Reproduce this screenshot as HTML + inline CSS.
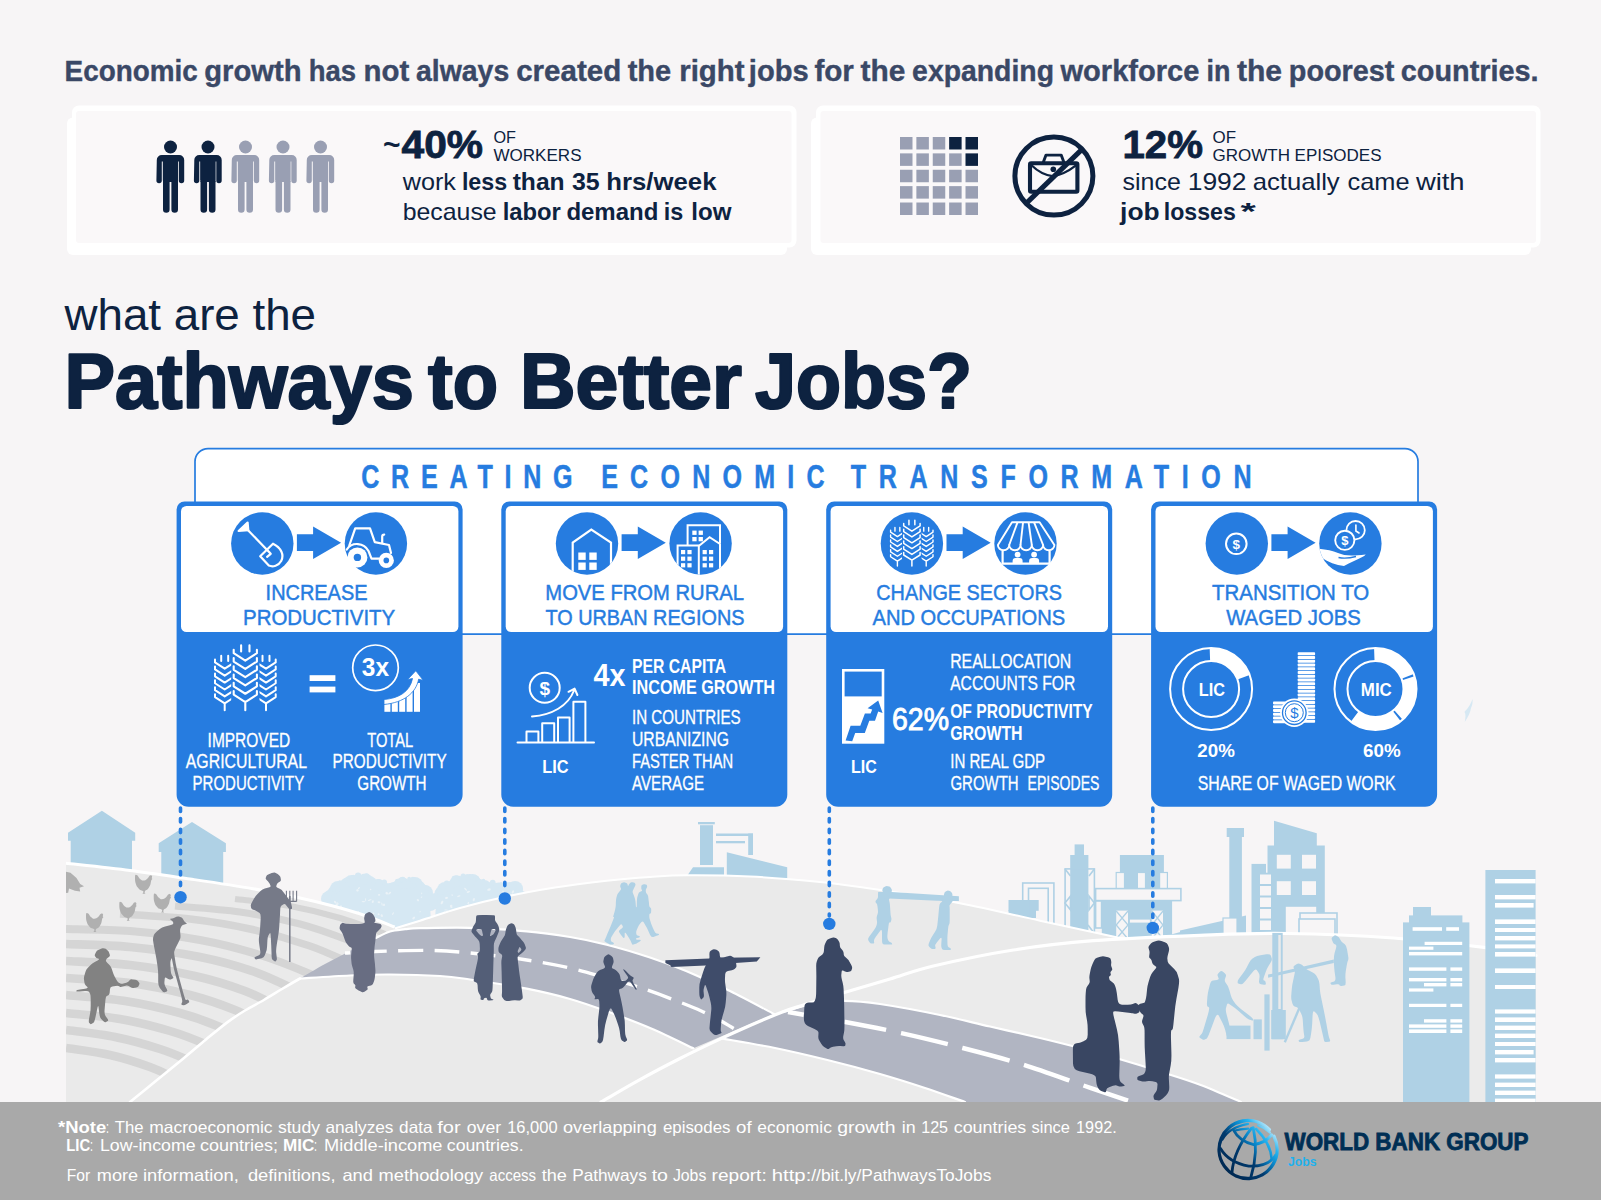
<!DOCTYPE html>
<html lang="en"><head><meta charset="utf-8"><title>Pathways to Better Jobs</title>
<style>
html,body{margin:0;padding:0;background:#f7f5f6;}
body{width:1601px;height:1200px;overflow:hidden;font-family:"Liberation Sans",sans-serif;}
svg{display:block;}
svg text{font-family:"Liberation Sans",sans-serif;}
</style></head><body>
<svg width="1601" height="1200" viewBox="0 0 1601 1200">
<rect width="1601" height="1200" fill="#f7f5f6"/>
<g id="p1_top">
<text y="81.3" font-size="29.5" font-weight="bold" fill="#3a4866" stroke="#3a4866" stroke-width="0.4"><tspan x="64.6" textLength="133.2" lengthAdjust="spacingAndGlyphs">Economic</tspan> <tspan x="204.2" textLength="97.3" lengthAdjust="spacingAndGlyphs">growth</tspan> <tspan x="308.8" textLength="47.3" lengthAdjust="spacingAndGlyphs">has</tspan> <tspan x="363.5" textLength="45.7" lengthAdjust="spacingAndGlyphs">not</tspan> <tspan x="416.0" textLength="93.2" lengthAdjust="spacingAndGlyphs">always</tspan> <tspan x="516.2" textLength="105.0" lengthAdjust="spacingAndGlyphs">created</tspan> <tspan x="627.7" textLength="43.5" lengthAdjust="spacingAndGlyphs">the</tspan> <tspan x="679.2" textLength="65.4" lengthAdjust="spacingAndGlyphs">right</tspan> <tspan x="748.8" textLength="59.8" lengthAdjust="spacingAndGlyphs">jobs</tspan> <tspan x="814.4" textLength="39.5" lengthAdjust="spacingAndGlyphs">for</tspan> <tspan x="860.6" textLength="44.8" lengthAdjust="spacingAndGlyphs">the</tspan> <tspan x="912.1" textLength="141.9" lengthAdjust="spacingAndGlyphs">expanding</tspan> <tspan x="1060.5" textLength="138.8" lengthAdjust="spacingAndGlyphs">workforce</tspan> <tspan x="1206.6" textLength="23.9" lengthAdjust="spacingAndGlyphs">in</tspan> <tspan x="1236.9" textLength="45.1" lengthAdjust="spacingAndGlyphs">the</tspan> <tspan x="1288.8" textLength="105.6" lengthAdjust="spacingAndGlyphs">poorest</tspan> <tspan x="1400.8" textLength="137.8" lengthAdjust="spacingAndGlyphs">countries.</tspan></text>
<rect x="67" y="117.5" width="720" height="137.5" rx="6" fill="#fff"/>
<rect x="72" y="105.5" width="724.5" height="142" rx="7" fill="#fff"/>
<rect x="76" y="111" width="715.5" height="132" rx="3" fill="#faf8f9"/>
<rect x="811" y="117.5" width="720" height="137.5" rx="6" fill="#fff"/>
<rect x="816" y="105.5" width="724.5" height="142" rx="7" fill="#fff"/>
<rect x="820.5" y="111" width="715.5" height="132" rx="3" fill="#faf8f9"/>
<g fill="#0d2240" transform="translate(170.5,0)"><circle cx="0" cy="147" r="6.5"/><path d="M-13.7,160 a5,5 0 0 1 5,-5 h17.4 a5,5 0 0 1 5,5 v20.5 a2.7,2.7 0 0 1 -5.4,0 v-19 h-1 v19 h-15 v-19 h-1 v19 a2.7,2.7 0 0 1 -5.4,0 z"/><path d="M-7.5,160 h15 v22 h-15z"/><path d="M-7.5,181 h6.6 v28.5 a3.3,3.3 0 0 1 -6.6,0 z M0.9,181 h6.6 v28.5 a3.3,3.3 0 0 1 -6.6,0 z"/></g>
<g fill="#0d2240" transform="translate(208,0)"><circle cx="0" cy="147" r="6.5"/><path d="M-13.7,160 a5,5 0 0 1 5,-5 h17.4 a5,5 0 0 1 5,5 v20.5 a2.7,2.7 0 0 1 -5.4,0 v-19 h-1 v19 h-15 v-19 h-1 v19 a2.7,2.7 0 0 1 -5.4,0 z"/><path d="M-7.5,160 h15 v22 h-15z"/><path d="M-7.5,181 h6.6 v28.5 a3.3,3.3 0 0 1 -6.6,0 z M0.9,181 h6.6 v28.5 a3.3,3.3 0 0 1 -6.6,0 z"/></g>
<g fill="#999fb3" transform="translate(245.5,0)"><circle cx="0" cy="147" r="6.5"/><path d="M-13.7,160 a5,5 0 0 1 5,-5 h17.4 a5,5 0 0 1 5,5 v20.5 a2.7,2.7 0 0 1 -5.4,0 v-19 h-1 v19 h-15 v-19 h-1 v19 a2.7,2.7 0 0 1 -5.4,0 z"/><path d="M-7.5,160 h15 v22 h-15z"/><path d="M-7.5,181 h6.6 v28.5 a3.3,3.3 0 0 1 -6.6,0 z M0.9,181 h6.6 v28.5 a3.3,3.3 0 0 1 -6.6,0 z"/></g>
<g fill="#999fb3" transform="translate(283,0)"><circle cx="0" cy="147" r="6.5"/><path d="M-13.7,160 a5,5 0 0 1 5,-5 h17.4 a5,5 0 0 1 5,5 v20.5 a2.7,2.7 0 0 1 -5.4,0 v-19 h-1 v19 h-15 v-19 h-1 v19 a2.7,2.7 0 0 1 -5.4,0 z"/><path d="M-7.5,160 h15 v22 h-15z"/><path d="M-7.5,181 h6.6 v28.5 a3.3,3.3 0 0 1 -6.6,0 z M0.9,181 h6.6 v28.5 a3.3,3.3 0 0 1 -6.6,0 z"/></g>
<g fill="#999fb3" transform="translate(320.5,0)"><circle cx="0" cy="147" r="6.5"/><path d="M-13.7,160 a5,5 0 0 1 5,-5 h17.4 a5,5 0 0 1 5,5 v20.5 a2.7,2.7 0 0 1 -5.4,0 v-19 h-1 v19 h-15 v-19 h-1 v19 a2.7,2.7 0 0 1 -5.4,0 z"/><path d="M-7.5,160 h15 v22 h-15z"/><path d="M-7.5,181 h6.6 v28.5 a3.3,3.3 0 0 1 -6.6,0 z M0.9,181 h6.6 v28.5 a3.3,3.3 0 0 1 -6.6,0 z"/></g>
<text x="383.0" y="155.0" font-size="30" font-weight="bold" fill="#0d2240" textLength="17.5" lengthAdjust="spacingAndGlyphs" >~</text>
<text x="401.5" y="158.0" font-size="39" font-weight="bold" fill="#0d2240" textLength="81.5" lengthAdjust="spacingAndGlyphs" stroke="#0d2240" stroke-width="0.8">40%</text>
<text x="493.5" y="143.2" font-size="16" font-weight="normal" fill="#0d2240" textLength="22.5" lengthAdjust="spacingAndGlyphs" >OF</text>
<text x="493.5" y="160.6" font-size="16" font-weight="normal" fill="#0d2240" textLength="88.0" lengthAdjust="spacingAndGlyphs" >WORKERS</text>
<text y="190.0" font-size="24" font-weight="normal" fill="#0d2240" ><tspan x="402.7" textLength="53.2" lengthAdjust="spacingAndGlyphs">work</tspan> <tspan x="461.9" textLength="45.3" lengthAdjust="spacingAndGlyphs" font-weight="bold">less</tspan> <tspan x="512.7" textLength="51.9" lengthAdjust="spacingAndGlyphs" font-weight="bold">than</tspan> <tspan x="571.9" textLength="27.7" lengthAdjust="spacingAndGlyphs" font-weight="bold">35</tspan> <tspan x="606.3" textLength="110.2" lengthAdjust="spacingAndGlyphs" font-weight="bold">hrs/week</tspan></text>
<text y="220.0" font-size="24" font-weight="normal" fill="#0d2240" ><tspan x="402.7" textLength="94.0" lengthAdjust="spacingAndGlyphs">because</tspan> <tspan x="502.7" textLength="58.2" lengthAdjust="spacingAndGlyphs" font-weight="bold">labor</tspan> <tspan x="566.4" textLength="91.9" lengthAdjust="spacingAndGlyphs" font-weight="bold">demand</tspan> <tspan x="663.8" textLength="19.5" lengthAdjust="spacingAndGlyphs" font-weight="bold">is</tspan> <tspan x="691.3" textLength="40.2" lengthAdjust="spacingAndGlyphs" font-weight="bold">low</tspan></text>
<rect x="900.00" y="137.00" width="12.5" height="12.5" fill="#999fb3"/><rect x="916.38" y="137.00" width="12.5" height="12.5" fill="#999fb3"/><rect x="932.75" y="137.00" width="12.5" height="12.5" fill="#999fb3"/><rect x="949.12" y="137.00" width="12.5" height="12.5" fill="#0d2240"/><rect x="965.50" y="137.00" width="12.5" height="12.5" fill="#0d2240"/><rect x="900.00" y="153.38" width="12.5" height="12.5" fill="#999fb3"/><rect x="916.38" y="153.38" width="12.5" height="12.5" fill="#999fb3"/><rect x="932.75" y="153.38" width="12.5" height="12.5" fill="#999fb3"/><rect x="949.12" y="153.38" width="12.5" height="12.5" fill="#999fb3"/><rect x="965.50" y="153.38" width="12.5" height="12.5" fill="#0d2240"/><rect x="900.00" y="169.75" width="12.5" height="12.5" fill="#999fb3"/><rect x="916.38" y="169.75" width="12.5" height="12.5" fill="#999fb3"/><rect x="932.75" y="169.75" width="12.5" height="12.5" fill="#999fb3"/><rect x="949.12" y="169.75" width="12.5" height="12.5" fill="#999fb3"/><rect x="965.50" y="169.75" width="12.5" height="12.5" fill="#999fb3"/><rect x="900.00" y="186.12" width="12.5" height="12.5" fill="#999fb3"/><rect x="916.38" y="186.12" width="12.5" height="12.5" fill="#999fb3"/><rect x="932.75" y="186.12" width="12.5" height="12.5" fill="#999fb3"/><rect x="949.12" y="186.12" width="12.5" height="12.5" fill="#999fb3"/><rect x="965.50" y="186.12" width="12.5" height="12.5" fill="#999fb3"/><rect x="900.00" y="202.50" width="12.5" height="12.5" fill="#999fb3"/><rect x="916.38" y="202.50" width="12.5" height="12.5" fill="#999fb3"/><rect x="932.75" y="202.50" width="12.5" height="12.5" fill="#999fb3"/><rect x="949.12" y="202.50" width="12.5" height="12.5" fill="#999fb3"/><rect x="965.50" y="202.50" width="12.5" height="12.5" fill="#999fb3"/>
<g fill="none" stroke="#0d2240" stroke-linecap="round" stroke-linejoin="round"><circle cx="1053.9" cy="176.1" r="39" stroke-width="5"/><rect x="1030" y="163.3" width="47.4" height="28.4" rx="1.2" stroke-width="4.1"/><path d="M1043.4,162 L1046,155.1 H1061.2 L1063.8,162" stroke-width="2.9"/><path d="M1031.5,165.3 Q1041,174.6 1052.5,176.2 Q1064,174.6 1076,165.3" stroke-width="2.3"/><path d="M1026.2,203.4 L1082.2,149.1" stroke-width="5" stroke-linecap="butt"/></g><circle cx="1053.3" cy="169.2" r="2.8" fill="#0d2240"/>
<text x="1122.5" y="158.0" font-size="39" font-weight="bold" fill="#0d2240" textLength="80.5" lengthAdjust="spacingAndGlyphs" stroke="#0d2240" stroke-width="0.8">12%</text>
<text x="1212.5" y="143.2" font-size="16" font-weight="normal" fill="#0d2240" textLength="23.5" lengthAdjust="spacingAndGlyphs" >OF</text>
<text x="1212.5" y="160.6" font-size="16" font-weight="normal" fill="#0d2240" textLength="169.0" lengthAdjust="spacingAndGlyphs" >GROWTH EPISODES</text>
<text y="190.0" font-size="24" font-weight="normal" fill="#0d2240" ><tspan x="1122.6" textLength="58.2" lengthAdjust="spacingAndGlyphs">since</tspan> <tspan x="1187.7" textLength="58.8" lengthAdjust="spacingAndGlyphs">1992</tspan> <tspan x="1252.7" textLength="87.0" lengthAdjust="spacingAndGlyphs">actually</tspan> <tspan x="1347.6" textLength="62.0" lengthAdjust="spacingAndGlyphs">came</tspan> <tspan x="1415.9" textLength="48.7" lengthAdjust="spacingAndGlyphs">with</tspan></text>
<text y="220.0" font-size="24" font-weight="bold" fill="#0d2240" ><tspan x="1120.1" textLength="39.5" lengthAdjust="spacingAndGlyphs">job</tspan> <tspan x="1163.8" textLength="72.0" lengthAdjust="spacingAndGlyphs">losses</tspan> <tspan x="1240.5" textLength="15.3" lengthAdjust="spacingAndGlyphs">*</tspan></text>
<text x="64.5" y="330.0" font-size="45" font-weight="normal" fill="#0d2240" textLength="251.5" lengthAdjust="spacingAndGlyphs" >what are the</text>
<text x="64.5" y="407.6" font-size="77" font-weight="bold" fill="#0d2240" textLength="349.5" lengthAdjust="spacingAndGlyphs" stroke="#0d2240" stroke-width="2.2" stroke-linejoin="round">Pathways</text>
<text x="428.0" y="407.6" font-size="77" font-weight="bold" fill="#0d2240" textLength="70.0" lengthAdjust="spacingAndGlyphs" stroke="#0d2240" stroke-width="2.2" stroke-linejoin="round">to</text>
<text x="520.0" y="407.6" font-size="77" font-weight="bold" fill="#0d2240" textLength="222.0" lengthAdjust="spacingAndGlyphs" stroke="#0d2240" stroke-width="2.2" stroke-linejoin="round">Better</text>
<text x="755.0" y="407.6" font-size="77" font-weight="bold" fill="#0d2240" textLength="217.0" lengthAdjust="spacingAndGlyphs" stroke="#0d2240" stroke-width="2.2" stroke-linejoin="round">Jobs?</text>
</g>
<g id="p4_land">
<path d="M1472.5,699 C1470,706 1467,709 1464.5,712 C1466,714 1465.5,718 1464.8,722 C1468,717 1470.5,712 1471,708 C1472.5,705 1472.8,702 1472.5,699Z" fill="#d6e8f3"/><g fill="#afd1e5"><path d="M68,832.7 L101.9,810.8 L135.2,832.7 V840.7 H132 V880 H70.7 V840.7 H68 Z"/><path d="M158.7,843.3 L192,822 L225.9,843.3 V851.9 H223.2 V900 H161.3 V851.9 H158.7 Z"/></g>
<g fill="#afd1e5"><rect x="698" y="822" width="16.8" height="2.3"/><rect x="700" y="825.2" width="13" height="39.8"/><path d="M693,867.2 H724 V876 H687 Z"/><path d="M726.8,852.2 L787.2,867.2 V879 H726.8 Z"/><rect x="716" y="833.5" width="37" height="2.5"/><rect x="748.2" y="833.5" width="4.8" height="21.5"/><rect x="716" y="841" width="29" height="2.3"/></g>
<g fill="#d6e8f3"><circle cx="329" cy="899" r="8"/><circle cx="338" cy="889" r="8"/><circle cx="351.6" cy="883" r="8"/><circle cx="365.3" cy="881.5" r="8"/><circle cx="378" cy="887" r="8"/><circle cx="390" cy="891" r="8"/><circle cx="402.5" cy="885.5" r="8"/><circle cx="414.8" cy="885" r="8"/><circle cx="425" cy="893" r="8"/><circle cx="430" cy="903" r="8"/><circle cx="332.0" cy="897.0" r="7.5"/><circle cx="334.9" cy="893.0" r="7.5"/><circle cx="342.5" cy="889.6" r="7.5"/><circle cx="347.0" cy="885.3" r="7.5"/><circle cx="356.1" cy="884.6" r="7.5"/><circle cx="360.6" cy="883.5" r="7.5"/><circle cx="369.5" cy="883.5" r="7.5"/><circle cx="373.7" cy="887.2" r="7.5"/><circle cx="382.0" cy="888.5" r="7.5"/><circle cx="385.9" cy="891.4" r="7.5"/><circle cx="394.1" cy="889.5" r="7.5"/><circle cx="398.2" cy="887.7" r="7.5"/><circle cx="406.6" cy="887.0" r="7.5"/><circle cx="410.6" cy="888.5" r="7.5"/><circle cx="418.2" cy="888.1" r="7.5"/><circle cx="421.5" cy="891.2" r="7.5"/><circle cx="426.6" cy="898.8" r="7.5"/><circle cx="428.3" cy="903.4" r="7.5"/><polygon points="327,935 329,902 338,892 351.6,886 365.3,884.5 378,890 390,894 402.5,888.5 414.8,888 425,896 430,906 432,935"/><circle cx="402.0" cy="880.7" r="1.8"/><circle cx="402.7" cy="879.7" r="2.9"/><circle cx="353.3" cy="876.6" r="1.8"/><circle cx="346.2" cy="880.6" r="2.5"/><circle cx="397.5" cy="882.9" r="2.0"/><circle cx="360.2" cy="877.2" r="2.4"/><circle cx="398.3" cy="883.9" r="1.8"/><circle cx="403.9" cy="882.2" r="2.3"/><circle cx="348.7" cy="880.9" r="2.1"/><circle cx="397.7" cy="882.6" r="2.9"/><circle cx="384.3" cy="882.1" r="2.7"/><circle cx="417.2" cy="883.0" r="1.6"/><circle cx="418.9" cy="882.8" r="1.9"/><circle cx="378.5" cy="882.1" r="3.0"/><circle cx="339.9" cy="882.1" r="1.8"/><circle cx="412.2" cy="879.7" r="2.2"/><circle cx="412.9" cy="878.7" r="2.0"/><circle cx="366.8" cy="875.3" r="2.1"/><circle cx="356.8" cy="877.6" r="3.1"/><circle cx="430.4" cy="898.5" r="2.3"/><circle cx="426.6" cy="890.3" r="2.6"/><circle cx="332.7" cy="891.9" r="1.8"/><circle cx="330.2" cy="893.1" r="3.1"/><circle cx="328.5" cy="892.8" r="2.6"/><circle cx="397.4" cy="881.1" r="2.4"/><circle cx="418.9" cy="882.4" r="2.8"/><circle cx="384.5" cy="884.0" r="1.9"/><circle cx="427.6" cy="893.3" r="2.8"/><circle cx="391.2" cy="886.7" r="2.0"/><circle cx="400.8" cy="879.9" r="2.5"/><circle cx="425.5" cy="892.5" r="3.2"/><circle cx="376.8" cy="881.9" r="2.0"/><circle cx="428.4" cy="894.9" r="2.9"/><circle cx="418.2" cy="883.9" r="2.3"/><circle cx="401.4" cy="879.6" r="2.0"/><circle cx="369.5" cy="880.3" r="2.6"/><circle cx="333.9" cy="890.4" r="1.7"/><circle cx="351.5" cy="879.5" r="2.4"/><circle cx="358.1" cy="875.7" r="3.1"/><circle cx="409.2" cy="878.6" r="1.9"/><circle cx="436" cy="901" r="8"/><circle cx="445" cy="890" r="8"/><circle cx="457.4" cy="883.5" r="8"/><circle cx="472.5" cy="882" r="8"/><circle cx="484" cy="888" r="8"/><circle cx="498.6" cy="890.5" r="8"/><circle cx="515.1" cy="889" r="8"/><circle cx="521" cy="899" r="8"/><circle cx="439.0" cy="901.3" r="7.5"/><circle cx="441.9" cy="893.9" r="7.5"/><circle cx="449.1" cy="890.2" r="7.5"/><circle cx="453.2" cy="887.6" r="7.5"/><circle cx="462.4" cy="885.6" r="7.5"/><circle cx="467.4" cy="885.0" r="7.5"/><circle cx="476.3" cy="886.4" r="7.5"/><circle cx="480.1" cy="887.9" r="7.5"/><circle cx="488.8" cy="892.6" r="7.5"/><circle cx="493.6" cy="890.3" r="7.5"/><circle cx="504.0" cy="892.2" r="7.5"/><circle cx="509.5" cy="889.6" r="7.5"/><circle cx="517.0" cy="895.5" r="7.5"/><circle cx="519.0" cy="898.5" r="7.5"/><polygon points="434,935 436,904 445,893 457.4,886.5 472.5,885 484,891 498.6,893.5 515.1,892 521,902 523,935"/><circle cx="442.5" cy="889.9" r="3.0"/><circle cx="518.4" cy="891.6" r="2.4"/><circle cx="517.6" cy="889.5" r="1.8"/><circle cx="504.3" cy="885.3" r="3.0"/><circle cx="483.5" cy="880.5" r="1.8"/><circle cx="484.0" cy="881.8" r="1.6"/><circle cx="514.6" cy="886.0" r="1.8"/><circle cx="439.0" cy="892.6" r="2.9"/><circle cx="442.2" cy="885.0" r="1.7"/><circle cx="440.8" cy="891.5" r="3.1"/><circle cx="478.1" cy="879.4" r="1.9"/><circle cx="464.4" cy="877.7" r="3.1"/><circle cx="508.7" cy="886.4" r="3.1"/><circle cx="454.0" cy="878.0" r="2.3"/><circle cx="441.8" cy="887.5" r="2.1"/><circle cx="442.7" cy="887.0" r="2.7"/><circle cx="446.7" cy="883.2" r="2.8"/><circle cx="439.5" cy="893.6" r="2.9"/><circle cx="455.7" cy="880.0" r="2.3"/><circle cx="463.1" cy="876.1" r="2.5"/><circle cx="480.1" cy="881.3" r="2.1"/><circle cx="438.7" cy="893.7" r="3.0"/><circle cx="436.5" cy="894.2" r="2.0"/><circle cx="456.6" cy="880.4" r="3.1"/><circle cx="475.9" cy="878.2" r="2.7"/><circle cx="439.7" cy="891.7" r="3.0"/><circle cx="472.1" cy="878.3" r="1.7"/><circle cx="515.5" cy="884.7" r="1.6"/><circle cx="491.8" cy="884.5" r="1.7"/><circle cx="501.0" cy="883.8" r="1.7"/><circle cx="457.1" cy="879.1" r="1.9"/><circle cx="477.0" cy="879.4" r="1.6"/><circle cx="456.0" cy="878.5" r="3.2"/><circle cx="492.7" cy="882.6" r="2.9"/><circle cx="480.2" cy="882.5" r="3.2"/><circle cx="469.7" cy="876.8" r="2.9"/><circle cx="509.2" cy="886.4" r="3.2"/><circle cx="514.1" cy="886.3" r="2.0"/><circle cx="446.3" cy="884.2" r="2.4"/><circle cx="467.2" cy="875.8" r="1.9"/></g><g fill="#eaf2f7"><ellipse cx="358.9" cy="888.1" rx="1.2" ry="0.7" transform="rotate(140 358.9 888.1)"/><ellipse cx="465.6" cy="889.3" rx="1.9" ry="0.7" transform="rotate(46 465.6 889.3)"/><ellipse cx="335.1" cy="902.1" rx="1.4" ry="0.9" transform="rotate(51 335.1 902.1)"/><ellipse cx="460.1" cy="916.7" rx="0.9" ry="1.1" transform="rotate(36 460.1 916.7)"/><ellipse cx="370.6" cy="889.5" rx="0.8" ry="0.7" transform="rotate(59 370.6 889.5)"/><ellipse cx="448.2" cy="923.4" rx="1.8" ry="0.6" transform="rotate(152 448.2 923.4)"/><ellipse cx="369.7" cy="900.1" rx="2.0" ry="0.6" transform="rotate(158 369.7 900.1)"/><ellipse cx="489.0" cy="889.6" rx="1.8" ry="1.1" transform="rotate(160 489.0 889.6)"/><ellipse cx="373.2" cy="913.9" rx="1.4" ry="1.1" transform="rotate(129 373.2 913.9)"/><ellipse cx="483.5" cy="918.1" rx="0.8" ry="1.0" transform="rotate(174 483.5 918.1)"/><ellipse cx="420.1" cy="911.8" rx="0.9" ry="0.5" transform="rotate(163 420.1 911.8)"/><ellipse cx="468.3" cy="891.9" rx="1.8" ry="0.9" transform="rotate(160 468.3 891.9)"/><ellipse cx="336.7" cy="907.7" rx="1.1" ry="0.7" transform="rotate(116 336.7 907.7)"/><ellipse cx="500.2" cy="915.7" rx="1.4" ry="0.9" transform="rotate(168 500.2 915.7)"/><ellipse cx="381.8" cy="915.6" rx="1.4" ry="1.1" transform="rotate(67 381.8 915.6)"/><ellipse cx="459.1" cy="916.0" rx="1.1" ry="1.0" transform="rotate(117 459.1 916.0)"/><ellipse cx="379.0" cy="902.2" rx="1.4" ry="1.0" transform="rotate(11 379.0 902.2)"/><ellipse cx="487.0" cy="911.8" rx="0.9" ry="0.6" transform="rotate(65 487.0 911.8)"/><ellipse cx="393.0" cy="913.6" rx="1.5" ry="0.6" transform="rotate(123 393.0 913.6)"/><ellipse cx="446.4" cy="897.9" rx="1.6" ry="1.0" transform="rotate(172 446.4 897.9)"/><ellipse cx="378.6" cy="914.2" rx="1.1" ry="0.8" transform="rotate(30 378.6 914.2)"/><ellipse cx="514.5" cy="908.3" rx="1.2" ry="0.6" transform="rotate(121 514.5 908.3)"/><ellipse cx="336.6" cy="905.0" rx="1.8" ry="1.2" transform="rotate(115 336.6 905.0)"/><ellipse cx="514.6" cy="902.3" rx="1.9" ry="1.2" transform="rotate(19 514.6 902.3)"/><ellipse cx="386.8" cy="893.2" rx="1.4" ry="1.2" transform="rotate(33 386.8 893.2)"/><ellipse cx="486.0" cy="911.4" rx="1.1" ry="0.6" transform="rotate(93 486.0 911.4)"/><ellipse cx="355.6" cy="921.2" rx="1.4" ry="0.5" transform="rotate(0 355.6 921.2)"/><ellipse cx="511.3" cy="913.2" rx="1.3" ry="1.0" transform="rotate(106 511.3 913.2)"/><ellipse cx="365.6" cy="899.7" rx="1.8" ry="0.5" transform="rotate(86 365.6 899.7)"/><ellipse cx="503.3" cy="892.4" rx="1.9" ry="1.0" transform="rotate(74 503.3 892.4)"/><ellipse cx="357.5" cy="890.4" rx="1.3" ry="1.1" transform="rotate(19 357.5 890.4)"/><ellipse cx="468.3" cy="903.8" rx="1.1" ry="0.5" transform="rotate(26 468.3 903.8)"/><ellipse cx="339.6" cy="912.5" rx="1.6" ry="0.6" transform="rotate(68 339.6 912.5)"/><ellipse cx="473.8" cy="899.7" rx="1.7" ry="1.0" transform="rotate(109 473.8 899.7)"/><ellipse cx="413.7" cy="918.0" rx="1.6" ry="1.1" transform="rotate(141 413.7 918.0)"/><ellipse cx="482.1" cy="914.6" rx="0.9" ry="1.0" transform="rotate(115 482.1 914.6)"/><ellipse cx="389.7" cy="893.1" rx="1.8" ry="0.8" transform="rotate(140 389.7 893.1)"/><ellipse cx="451.3" cy="905.5" rx="1.2" ry="0.7" transform="rotate(167 451.3 905.5)"/><ellipse cx="358.2" cy="912.3" rx="1.2" ry="0.9" transform="rotate(100 358.2 912.3)"/><ellipse cx="450.7" cy="911.8" rx="0.9" ry="0.9" transform="rotate(127 450.7 911.8)"/><ellipse cx="384.0" cy="904.8" rx="1.2" ry="1.0" transform="rotate(109 384.0 904.8)"/><ellipse cx="452.2" cy="895.1" rx="0.9" ry="0.7" transform="rotate(23 452.2 895.1)"/><ellipse cx="363.4" cy="901.6" rx="1.8" ry="0.6" transform="rotate(5 363.4 901.6)"/><ellipse cx="496.7" cy="903.3" rx="1.3" ry="0.9" transform="rotate(96 496.7 903.3)"/><ellipse cx="359.1" cy="915.8" rx="1.4" ry="0.9" transform="rotate(92 359.1 915.8)"/><ellipse cx="451.2" cy="906.6" rx="1.6" ry="1.1" transform="rotate(55 451.2 906.6)"/><ellipse cx="343.2" cy="921.2" rx="1.3" ry="1.0" transform="rotate(110 343.2 921.2)"/><ellipse cx="511.6" cy="919.4" rx="1.8" ry="0.5" transform="rotate(8 511.6 919.4)"/><ellipse cx="372.8" cy="916.3" rx="1.8" ry="1.2" transform="rotate(125 372.8 916.3)"/><ellipse cx="442.0" cy="902.5" rx="1.9" ry="1.1" transform="rotate(119 442.0 902.5)"/><ellipse cx="421.5" cy="897.2" rx="0.9" ry="0.6" transform="rotate(133 421.5 897.2)"/><ellipse cx="512.9" cy="892.0" rx="1.8" ry="1.0" transform="rotate(117 512.9 892.0)"/><ellipse cx="342.6" cy="916.7" rx="0.8" ry="0.6" transform="rotate(145 342.6 916.7)"/><ellipse cx="509.2" cy="911.9" rx="1.2" ry="0.6" transform="rotate(64 509.2 911.9)"/><ellipse cx="382.0" cy="904.2" rx="1.7" ry="0.6" transform="rotate(76 382.0 904.2)"/><ellipse cx="480.3" cy="909.6" rx="1.3" ry="0.7" transform="rotate(153 480.3 909.6)"/><ellipse cx="335.1" cy="907.9" rx="2.0" ry="0.7" transform="rotate(80 335.1 907.9)"/><ellipse cx="489.1" cy="920.7" rx="1.4" ry="0.7" transform="rotate(63 489.1 920.7)"/><ellipse cx="337.6" cy="903.2" rx="1.6" ry="0.5" transform="rotate(49 337.6 903.2)"/><ellipse cx="478.4" cy="913.0" rx="1.3" ry="0.7" transform="rotate(170 478.4 913.0)"/><ellipse cx="372.8" cy="901.7" rx="1.4" ry="1.0" transform="rotate(107 372.8 901.7)"/><ellipse cx="468.4" cy="902.7" rx="0.8" ry="0.7" transform="rotate(129 468.4 902.7)"/><ellipse cx="341.0" cy="906.3" rx="1.0" ry="1.0" transform="rotate(49 341.0 906.3)"/><ellipse cx="458.8" cy="896.2" rx="1.7" ry="0.7" transform="rotate(159 458.8 896.2)"/><ellipse cx="379.1" cy="894.9" rx="1.1" ry="0.8" transform="rotate(170 379.1 894.9)"/><ellipse cx="446.1" cy="910.0" rx="1.9" ry="0.5" transform="rotate(6 446.1 910.0)"/><ellipse cx="421.7" cy="893.3" rx="0.9" ry="0.5" transform="rotate(100 421.7 893.3)"/><ellipse cx="474.8" cy="914.3" rx="1.2" ry="0.6" transform="rotate(20 474.8 914.3)"/><ellipse cx="417.9" cy="900.2" rx="1.0" ry="1.2" transform="rotate(119 417.9 900.2)"/><ellipse cx="444.3" cy="912.6" rx="1.3" ry="0.8" transform="rotate(84 444.3 912.6)"/></g>
<g fill="#afd1e5"><rect x="1074.6" y="844.4" width="9.4" height="12"/><rect x="1070.2" y="855" width="18.2" height="78"/><rect x="1119.9" y="855" width="44" height="18"/><rect x="1115.6" y="871.9" width="52.4" height="17"/><rect x="1101.8" y="900" width="70.3" height="40"/><rect x="1008.5" y="900" width="30.2" height="10.8"/><rect x="1008.5" y="910" width="27.5" height="8"/><path d="M1172,934.3 L1200,926.8 V940 H1172Z"/></g><rect x="1116.8" y="873.1" width="7.1" height="15.2" fill="#f7f5f6"/><rect x="1138" y="873.1" width="6.9" height="15.2" fill="#f7f5f6"/><rect x="1160.2" y="873.1" width="6.6" height="15.2" fill="#f7f5f6"/><g fill="none" stroke="#afd1e5" stroke-width="1.6"><rect x="1022.7" y="883" width="31.2" height="50"/><rect x="1028.5" y="888.3" width="19.7" height="45"/><rect x="1065.1" y="868.9" width="29.3" height="66"/><path d="M1065,869 L1070.5,876 M1094.4,869 L1089,876 M1065,903 L1070.5,896 L1070.5,910 Z M1094.4,903 L1089,896 L1089,910 Z M1088,925 L1094,933"/><rect x="1095.6" y="888.6" width="85.3" height="12" fill="#f7f5f6"/><rect x="1095.6" y="901" width="6" height="27" fill="#f7f5f6"/></g><rect x="1116.2" y="910.6" width="11.8" height="29" fill="#f7f5f6"/><path d="M1116.2,911 L1128,925 L1116.2,939 M1128,911 L1116.2,925 L1128,939" fill="none" stroke="#afd1e5" stroke-width="1.3"/><rect x="1151.8" y="910.6" width="11.2" height="29" fill="#f7f5f6"/><path d="M1151.8,911 L1163,925 L1151.8,939 M1163,911 L1151.8,925 L1163,939" fill="none" stroke="#afd1e5" stroke-width="1.3"/><rect x="1129.9" y="919.6" width="20" height="3" fill="#f7f5f6"/>
<g fill="#afd1e5"><rect x="1226.7" y="828" width="17.3" height="9"/><rect x="1229.3" y="836" width="12.6" height="100"/><path d="M1180,930.5 L1246,915.5 V936 H1180 Z"/><rect x="1251.5" y="863.9" width="14.5" height="70"/><rect x="1258.7" y="872.7" width="13.5" height="62"/><path d="M1274,820.7 L1316.8,833.2 V845.5 H1324.8 V935 H1267.5 V845.5 H1274 Z"/></g><rect x="1276.8" y="854.8" width="14" height="13.8" fill="#f7f5f6"/><rect x="1276.8" y="881.2" width="14" height="13.8" fill="#f7f5f6"/><rect x="1302" y="854.8" width="14" height="13.8" fill="#f7f5f6"/><rect x="1302" y="881.2" width="14" height="13.8" fill="#f7f5f6"/><rect x="1260" y="874.5" width="11" height="9.5" fill="#f7f5f6"/><rect x="1260" y="886" width="11" height="9.5" fill="#f7f5f6"/><rect x="1260" y="897.5" width="11" height="9.5" fill="#f7f5f6"/><rect x="1260" y="909" width="11" height="9.5" fill="#f7f5f6"/><rect x="1260" y="920.5" width="11" height="9.5" fill="#f7f5f6"/><rect x="1223" y="918" width="14" height="17" fill="#f7f5f6" stroke="#afd1e5" stroke-width="1.2"/><rect x="1285" y="906" width="32" height="28" fill="#f7f5f6" stroke="#afd1e5" stroke-width="1.6"/><rect x="1300" y="913" width="37" height="22" fill="#f7f5f6" stroke="#afd1e5" stroke-width="1.6"/><rect x="1299" y="919" width="36" height="16" fill="#f7f5f6" stroke="#afd1e5" stroke-width="1.6"/>
<path d="M380.0,933.0 C386.7,931.0 406.7,924.9 420.0,920.7 C433.3,916.5 445.8,912.0 460.0,908.0 C474.2,904.0 489.5,900.1 505.3,896.7 C521.1,893.3 538.1,890.2 555.0,887.5 C571.9,884.8 590.9,882.5 606.7,880.7 C622.5,879.0 636.7,877.9 650.0,877.0 C663.3,876.1 670.0,875.4 686.7,875.3 C703.4,875.2 727.8,875.4 750.0,876.5 C772.2,877.6 798.3,879.8 820.0,882.0 C841.7,884.2 856.7,886.5 880.0,890.0 C903.3,893.5 933.3,898.2 960.0,903.3 C986.7,908.4 1013.3,914.9 1040.0,920.7 C1066.7,926.5 1100.0,933.5 1120.0,938.0 C1140.0,942.5 1153.3,946.3 1160.0,948.0  L1160,1102 L380,1102 Z" fill="#eaeaea"/><path d="M380.0,933.0 C386.7,931.0 406.7,924.9 420.0,920.7 C433.3,916.5 445.8,912.0 460.0,908.0 C474.2,904.0 489.5,900.1 505.3,896.7 C521.1,893.3 538.1,890.2 555.0,887.5 C571.9,884.8 590.9,882.5 606.7,880.7 C622.5,879.0 636.7,877.9 650.0,877.0 C663.3,876.1 670.0,875.4 686.7,875.3 C703.4,875.2 727.8,875.4 750.0,876.5 C772.2,877.6 798.3,879.8 820.0,882.0 C841.7,884.2 856.7,886.5 880.0,890.0 C903.3,893.5 933.3,898.2 960.0,903.3 C986.7,908.4 1013.3,914.9 1040.0,920.7 C1066.7,926.5 1100.0,933.5 1120.0,938.0 C1140.0,942.5 1153.3,946.3 1160.0,948.0 " fill="none" stroke="#fff" stroke-width="2"/>
<clipPath id="cpA"><path d="M66.0,863.3 C76.7,864.5 109.3,867.9 130.0,870.5 C150.7,873.1 169.5,876.0 190.0,879.0 C210.5,882.0 234.7,885.5 253.0,888.7 C271.3,891.9 286.7,895.1 300.0,898.0 C313.3,900.9 322.2,903.1 333.0,906.0 C343.8,908.9 354.7,912.0 365.0,915.5 C375.3,919.0 389.8,925.1 394.7,927.0  L420,1102 L66,1102 Z"/></clipPath><path d="M66.0,863.3 C76.7,864.5 109.3,867.9 130.0,870.5 C150.7,873.1 169.5,876.0 190.0,879.0 C210.5,882.0 234.7,885.5 253.0,888.7 C271.3,891.9 286.7,895.1 300.0,898.0 C313.3,900.9 322.2,903.1 333.0,906.0 C343.8,908.9 354.7,912.0 365.0,915.5 C375.3,919.0 389.8,925.1 394.7,927.0  L420,1102 L66,1102 Z" fill="#eaeaea"/><g clip-path="url(#cpA)" fill="none" stroke="#d5d5d5"><path d="M235.0,899.0 C244.2,900.2 272.5,902.8 290.0,906.0 C307.5,909.2 324.2,913.3 340.0,918.0 C355.8,922.7 377.5,931.3 385.0,934.0 " stroke-width="6.1"/><path d="M175.0,906.0 C185.8,907.0 219.2,909.0 240.0,912.0 C260.8,915.0 281.7,919.2 300.0,924.0 C318.3,928.8 335.8,935.5 350.0,941.0 C364.2,946.5 379.2,954.3 385.0,957.0 " stroke-width="7.1"/><path d="M120.0,914.0 C131.7,914.8 168.3,916.5 190.0,919.0 C211.7,921.5 230.0,924.5 250.0,929.0 C270.0,933.5 293.3,940.3 310.0,946.0 C326.7,951.7 343.3,960.2 350.0,963.0 " stroke-width="7.6"/><path d="M66.0,929.0 C76.7,929.3 107.7,929.2 130.0,931.0 C152.3,932.8 178.3,936.0 200.0,940.0 C221.7,944.0 241.7,949.3 260.0,955.0 C278.3,960.7 298.3,969.0 310.0,974.0 C321.7,979.0 326.7,983.2 330.0,985.0 " stroke-width="8.1"/><path d="M66.0,944.0 C76.7,944.5 107.7,944.8 130.0,947.0 C152.3,949.2 179.2,952.8 200.0,957.0 C220.8,961.2 238.3,966.2 255.0,972.0 C271.7,977.8 292.5,988.7 300.0,992.0 " stroke-width="8.6"/><path d="M66.0,961.0 C76.7,961.7 108.5,962.5 130.0,965.0 C151.5,967.5 175.8,971.7 195.0,976.0 C214.2,980.3 230.8,985.7 245.0,991.0 C259.2,996.3 274.2,1005.2 280.0,1008.0 " stroke-width="8.6"/><path d="M66.0,978.0 C76.7,978.8 109.3,980.2 130.0,983.0 C150.7,985.8 172.5,990.5 190.0,995.0 C207.5,999.5 223.0,1005.2 235.0,1010.0 C247.0,1014.8 257.5,1021.7 262.0,1024.0 " stroke-width="8.6"/><path d="M66.0,995.0 C75.8,996.0 106.0,998.0 125.0,1001.0 C144.0,1004.0 164.2,1008.7 180.0,1013.0 C195.8,1017.3 209.5,1022.5 220.0,1027.0 C230.5,1031.5 239.2,1037.8 243.0,1040.0 " stroke-width="8.6"/><path d="M66.0,1013.0 C75.0,1014.0 102.7,1016.0 120.0,1019.0 C137.3,1022.0 155.8,1026.8 170.0,1031.0 C184.2,1035.2 196.3,1040.2 205.0,1044.0 C213.7,1047.8 219.2,1052.3 222.0,1054.0 " stroke-width="8.6"/><path d="M66.0,1030.0 C74.2,1031.2 99.3,1033.8 115.0,1037.0 C130.7,1040.2 147.5,1045.0 160.0,1049.0 C172.5,1053.0 182.8,1057.7 190.0,1061.0 C197.2,1064.3 200.8,1067.7 203.0,1069.0 " stroke-width="8.6"/><path d="M66.0,1048.0 C73.3,1049.2 96.0,1051.8 110.0,1055.0 C124.0,1058.2 139.7,1063.3 150.0,1067.0 C160.3,1070.7 166.7,1074.3 172.0,1077.0 C177.3,1079.7 180.3,1082.0 182.0,1083.0 " stroke-width="8.6"/></g><path d="M66.0,863.3 C76.7,864.5 109.3,867.9 130.0,870.5 C150.7,873.1 169.5,876.0 190.0,879.0 C210.5,882.0 234.7,885.5 253.0,888.7 C271.3,891.9 286.7,895.1 300.0,898.0 C313.3,900.9 322.2,903.1 333.0,906.0 C343.8,908.9 354.7,912.0 365.0,915.5 C375.3,919.0 389.8,925.1 394.7,927.0 " fill="none" stroke="#fff" stroke-width="3"/>
<path d="M601.0,1102.0 C607.5,1098.3 626.8,1086.8 640.0,1079.6 C653.2,1072.3 666.4,1065.4 680.0,1058.5 C693.6,1051.6 709.8,1043.9 721.5,1038.4 C733.2,1032.9 739.9,1029.9 750.0,1025.5 C760.1,1021.1 773.2,1015.5 782.4,1012.0 C791.5,1008.5 794.6,1007.9 804.9,1004.6 C815.2,1001.4 830.0,996.8 844.2,992.5 C858.4,988.2 875.1,983.4 890.0,979.0 C904.9,974.6 912.8,970.8 933.3,966.0 C953.8,961.2 986.6,954.2 1013.3,950.0 C1040.0,945.8 1062.2,943.2 1093.3,940.7 C1124.4,938.2 1167.8,936.5 1200.0,935.3 C1232.2,934.1 1254.5,933.0 1286.7,933.5 C1318.9,934.0 1360.4,935.7 1393.3,938.0 C1426.2,940.3 1460.2,944.4 1484.0,947.3 C1507.8,950.2 1527.3,954.1 1536.0,955.5  L1536,1102 Z" fill="#ebebeb"/><path d="M130.0,1102.0 C134.5,1098.3 148.0,1087.3 157.0,1080.0 C166.0,1072.7 175.8,1064.7 184.0,1057.9 C192.2,1051.2 198.7,1045.5 206.0,1039.5 C213.3,1033.5 221.4,1026.7 227.9,1021.9 C234.4,1017.1 239.0,1014.1 245.0,1010.5 C251.0,1006.9 257.7,1003.6 263.9,1000.0 C270.1,996.4 276.0,992.6 282.0,989.0 C288.0,985.4 297.0,980.2 300.0,978.5 C308.3,978.0 335.0,976.2 350.0,975.5 C365.0,974.8 375.0,974.4 390.0,974.5 C405.0,974.6 426.7,975.2 440.0,976.0 C453.3,976.8 455.6,977.4 470.0,979.5 C484.4,981.6 510.0,985.5 526.7,988.7 C543.4,992.0 556.7,995.2 570.0,999.0 C583.3,1002.8 593.4,1006.5 606.7,1011.3 C620.0,1016.1 635.5,1021.8 650.0,1028.0 C664.5,1034.2 686.2,1044.9 693.4,1048.3  L721.5,1038.4  L601,1102 Z" fill="#eaeaea"/><path d="M300.0,978.5 C304.2,976.1 316.7,968.6 325.0,964.0 C333.3,959.4 341.5,955.3 350.0,951.0 C358.5,946.7 369.3,941.2 376.0,938.0 C382.7,934.8 385.2,933.0 390.0,931.5 C394.8,930.0 400.0,929.8 405.0,929.2 C410.0,928.7 409.2,928.4 420.0,928.2 C430.8,928.0 452.2,927.3 470.0,927.8 C487.8,928.3 510.0,929.8 526.7,931.3 C543.4,932.8 556.7,934.8 570.0,937.0 C583.3,939.2 593.4,941.3 606.7,944.7 C620.0,948.1 636.7,953.1 650.0,957.5 C663.3,961.9 673.4,965.7 686.7,971.3 C700.0,976.9 715.5,983.9 730.0,991.0 C744.5,998.1 766.7,1010.2 774.0,1014.0  L693.4,1048.3 C686.2,1044.9 664.5,1034.2 650.0,1028.0 C635.5,1021.8 620.0,1016.1 606.7,1011.3 C593.4,1006.5 583.3,1002.8 570.0,999.0 C556.7,995.2 543.4,992.0 526.7,988.7 C510.0,985.5 484.4,981.6 470.0,979.5 C455.6,977.4 453.3,976.8 440.0,976.0 C426.7,975.2 405.0,974.6 390.0,974.5 C375.0,974.4 365.0,974.8 350.0,975.5 C335.0,976.2 308.3,978.0 300.0,978.5 Z" fill="#b1b5c2"/><path d="M782.0,1012.0 C787.5,1010.6 804.7,1005.4 815.0,1003.5 C825.3,1001.6 833.2,1000.7 844.0,1000.8 C854.8,1000.9 864.0,1001.6 880.0,1004.0 C896.0,1006.4 921.7,1011.2 940.0,1015.0 C958.3,1018.8 973.3,1022.7 990.0,1026.5 C1006.7,1030.3 1025.0,1034.4 1040.0,1038.0 C1055.0,1041.6 1066.7,1044.5 1080.0,1048.0 C1093.3,1051.5 1106.7,1055.4 1120.0,1059.3 C1133.3,1063.2 1146.7,1067.3 1160.0,1071.5 C1173.3,1075.7 1186.5,1079.6 1200.0,1084.7 C1213.5,1089.8 1234.2,1099.1 1241.0,1102.0  L965,1102 C958.3,1099.7 939.2,1092.7 925.0,1088.0 C910.8,1083.3 896.3,1078.7 880.0,1074.0 C863.7,1069.3 844.9,1064.3 827.4,1060.0 C809.9,1055.7 792.6,1051.6 775.0,1048.0 C757.4,1044.4 730.4,1040.0 721.5,1038.4  L782,1012 Z" fill="#b1b5c2"/><g fill="none" stroke="#fff" stroke-width="2.2" stroke-linecap="round"><path d="M376.0,938.0 C378.3,936.9 385.2,933.0 390.0,931.5 C394.8,930.0 400.0,929.8 405.0,929.2 C410.0,928.7 409.2,928.4 420.0,928.2 C430.8,928.0 452.2,927.3 470.0,927.8 C487.8,928.3 510.0,929.8 526.7,931.3 C543.4,932.8 556.7,934.8 570.0,937.0 C583.3,939.2 593.4,941.3 606.7,944.7 C620.0,948.1 636.7,953.1 650.0,957.5 C663.3,961.9 673.4,965.7 686.7,971.3 C700.0,976.9 715.5,983.9 730.0,991.0 C744.5,998.1 766.7,1010.2 774.0,1014.0 "/><path d="M300.0,978.5 C308.3,978.0 335.0,976.2 350.0,975.5 C365.0,974.8 375.0,974.4 390.0,974.5 C405.0,974.6 426.7,975.2 440.0,976.0 C453.3,976.8 455.6,977.4 470.0,979.5 C484.4,981.6 510.0,985.5 526.7,988.7 C543.4,992.0 556.7,995.2 570.0,999.0 C583.3,1002.8 593.4,1006.5 606.7,1011.3 C620.0,1016.1 635.5,1021.8 650.0,1028.0 C664.5,1034.2 686.2,1044.9 693.4,1048.3 "/><path d="M782.0,1012.0 C787.5,1010.6 804.7,1005.4 815.0,1003.5 C825.3,1001.6 833.2,1000.7 844.0,1000.8 C854.8,1000.9 864.0,1001.6 880.0,1004.0 C896.0,1006.4 921.7,1011.2 940.0,1015.0 C958.3,1018.8 973.3,1022.7 990.0,1026.5 C1006.7,1030.3 1025.0,1034.4 1040.0,1038.0 C1055.0,1041.6 1066.7,1044.5 1080.0,1048.0 C1093.3,1051.5 1106.7,1055.4 1120.0,1059.3 C1133.3,1063.2 1146.7,1067.3 1160.0,1071.5 C1173.3,1075.7 1186.5,1079.6 1200.0,1084.7 C1213.5,1089.8 1234.2,1099.1 1241.0,1102.0 "/><path d="M721.5,1038.4 C730.4,1040.0 757.4,1044.4 775.0,1048.0 C792.6,1051.6 809.9,1055.7 827.4,1060.0 C844.9,1064.3 863.7,1069.3 880.0,1074.0 C896.3,1078.7 910.8,1083.3 925.0,1088.0 C939.2,1092.7 958.3,1099.7 965.0,1102.0 "/><path d="M130.0,1102.0 C134.5,1098.3 148.0,1087.3 157.0,1080.0 C166.0,1072.7 175.8,1064.7 184.0,1057.9 C192.2,1051.2 198.7,1045.5 206.0,1039.5 C213.3,1033.5 221.4,1026.7 227.9,1021.9 C234.4,1017.1 239.0,1014.1 245.0,1010.5 C251.0,1006.9 257.7,1003.6 263.9,1000.0 C270.1,996.4 276.0,992.6 282.0,989.0 C288.0,985.4 297.0,980.2 300.0,978.5 " stroke-width="2.6"/><path d="M601.0,1102.0 C607.5,1098.3 626.8,1086.8 640.0,1079.6 C653.2,1072.3 666.4,1065.4 680.0,1058.5 C693.6,1051.6 709.8,1043.9 721.5,1038.4 C733.2,1032.9 739.9,1029.9 750.0,1025.5 C760.1,1021.1 773.2,1015.5 782.4,1012.0 C791.5,1008.5 794.6,1007.9 804.9,1004.6 C815.2,1001.4 830.0,996.8 844.2,992.5 C858.4,988.2 875.1,983.4 890.0,979.0 C904.9,974.6 912.8,970.8 933.3,966.0 C953.8,961.2 986.6,954.2 1013.3,950.0 C1040.0,945.8 1062.2,943.2 1093.3,940.7 C1124.4,938.2 1167.8,936.5 1200.0,935.3 C1232.2,934.1 1254.5,933.0 1286.7,933.5 C1318.9,934.0 1360.4,935.7 1393.3,938.0 C1426.2,940.3 1460.2,944.4 1484.0,947.3 C1507.8,950.2 1527.3,954.1 1536.0,955.5 " stroke-width="3.2"/></g><path d="M345.0,953.0 C350.0,952.8 360.3,951.9 375.0,951.5 C389.7,951.1 415.5,950.1 433.0,950.5 C450.5,950.9 464.4,952.4 480.0,954.0 C495.6,955.6 511.7,957.7 526.7,960.0 C541.7,962.3 556.7,965.0 570.0,968.0 C583.3,971.0 593.9,974.4 606.7,978.0 C619.5,981.6 630.8,984.3 646.6,989.8 C662.5,995.3 687.3,1004.8 701.8,1011.2 C716.3,1017.6 728.4,1025.5 733.7,1028.4 " fill="none" stroke="#fff" stroke-width="3.4" stroke-dasharray="24.8 11.5" stroke-dashoffset="19.3"/><path d="M788.0,1012.0 C797.5,1013.7 826.4,1018.5 845.3,1022.0 C864.2,1025.5 881.7,1028.9 901.3,1033.2 C920.9,1037.5 942.3,1042.8 962.7,1048.0 C983.1,1053.2 1003.4,1058.5 1023.5,1064.7 C1043.6,1071.0 1066.1,1079.5 1083.5,1085.5 C1100.9,1091.5 1120.6,1098.2 1128.0,1100.7 " fill="none" stroke="#fff" stroke-width="4.4" stroke-dasharray="16 41 43 15 48 15 49 15 48 15 48 15"/>
<g fill="#afd1e5"><rect x="1403" y="922.4" width="66.4" height="180"/><rect x="1409" y="915.4" width="53.4" height="8"/><rect x="1413" y="907" width="18" height="9"/><rect x="1485.4" y="870" width="50.2" height="232"/></g><rect x="1412.6" y="927.2" width="29.4" height="3.6" fill="#ffffff"/><rect x="1446.2" y="927.2" width="12.8" height="3.6" fill="#ffffff"/><rect x="1424.6" y="941.8" width="37.6" height="3.2" fill="#ffffff"/><rect x="1409.0" y="946.6" width="24.4" height="3.2" fill="#ffffff"/><rect x="1409.0" y="952.0" width="53.2" height="3.4" fill="#ffffff"/><rect x="1409.0" y="967.4" width="37.4" height="3.4" fill="#ffffff"/><rect x="1450.4" y="967.4" width="11.8" height="3.4" fill="#ffffff"/><rect x="1409.0" y="978.0" width="37.4" height="3.4" fill="#ffffff"/><rect x="1450.4" y="978.0" width="11.8" height="3.4" fill="#ffffff"/><rect x="1424.0" y="983.0" width="22.4" height="3.4" fill="#ffffff"/><rect x="1450.4" y="983.0" width="11.8" height="3.4" fill="#ffffff"/><rect x="1409.0" y="988.4" width="24.4" height="3.2" fill="#ffffff"/><rect x="1409.0" y="1003.8" width="37.4" height="3.2" fill="#ffffff"/><rect x="1450.4" y="1003.8" width="11.8" height="3.2" fill="#ffffff"/><rect x="1424.0" y="1019.2" width="22.4" height="3.4" fill="#ffffff"/><rect x="1450.4" y="1019.2" width="11.8" height="3.4" fill="#ffffff"/><rect x="1409.0" y="1024.4" width="37.4" height="3.4" fill="#ffffff"/><rect x="1450.4" y="1024.4" width="11.8" height="3.4" fill="#ffffff"/><rect x="1409.0" y="1029.4" width="37.4" height="3.6" fill="#ffffff"/><rect x="1450.4" y="1029.4" width="11.8" height="3.6" fill="#ffffff"/><rect x="1495" y="879.0" width="40.6" height="4.4" fill="#ffffff"/><rect x="1495" y="895.0" width="40.6" height="4.4" fill="#ffffff"/><rect x="1495" y="903.0" width="38.6" height="4.6" fill="#ffffff"/><rect x="1495" y="919.4" width="40.6" height="4.6" fill="#ffffff"/><rect x="1495" y="928.0" width="40.6" height="4.0" fill="#ffffff"/><rect x="1495" y="936.0" width="40.6" height="4.4" fill="#ffffff"/><rect x="1495" y="944.4" width="40.6" height="4.0" fill="#ffffff"/><rect x="1495" y="952.0" width="40.6" height="4.6" fill="#ffffff"/><rect x="1495" y="968.4" width="40.6" height="4.6" fill="#ffffff"/><rect x="1495" y="985.0" width="40.6" height="4.0" fill="#ffffff"/><rect x="1495" y="1009.4" width="40.6" height="4.2" fill="#ffffff"/><rect x="1495" y="1017.4" width="40.6" height="4.6" fill="#ffffff"/><rect x="1495" y="1025.6" width="40.6" height="4.4" fill="#ffffff"/><rect x="1495" y="1033.6" width="40.6" height="4.4" fill="#ffffff"/><rect x="1495" y="1042.0" width="40.6" height="4.0" fill="#ffffff"/><rect x="1495" y="1050.0" width="38.6" height="4.4" fill="#ffffff"/><rect x="1495" y="1058.0" width="40.6" height="4.4" fill="#ffffff"/><rect x="1495" y="1074.4" width="40.6" height="4.2" fill="#ffffff"/><rect x="1495" y="1082.6" width="40.6" height="4.4" fill="#ffffff"/><rect x="1495" y="1090.6" width="40.6" height="4.4" fill="#ffffff"/><rect x="1495" y="1098.6" width="40.6" height="3.6" fill="#ffffff"/>
<g fill="#b0b0b0"><path transform="translate(143.5,884.4)" d="M-8.49,-7.67 Q-8.49,-9.62 -7.82,-9.54 L-6.92,-9.44 Q-6.25,-9.37 -5.57,-8.32 L-4.67,-6.92 Q-4.00,-5.87 -3.17,-5.23 L-2.07,-4.38 Q-1.25,-3.75 -0.31,-3.86 L0.94,-4.01 Q1.87,-4.12 2.62,-4.76 L3.62,-5.61 Q4.37,-6.25 4.86,-7.00 L5.51,-8.00 Q6.00,-8.74 6.52,-8.93 L7.22,-9.18 Q7.75,-9.37 8.04,-8.92 L8.44,-8.32 Q8.74,-7.87 8.56,-7.38 L8.31,-6.73 Q8.12,-6.25 8.38,-5.98 L8.73,-5.63 Q8.99,-5.37 8.62,-5.07 L8.12,-4.67 Q7.75,-4.37 7.48,-2.87 L7.13,-0.87 Q6.87,0.62 6.12,1.94 L5.12,3.69 Q4.37,5.00 3.51,5.37 L2.36,5.87 Q1.50,6.25 1.35,7.00 L1.15,8.00 Q1.00,8.74 1.37,8.93 L1.87,9.18 Q2.25,9.37 1.20,9.37 L-0.20,9.37 Q-1.25,9.37 -0.95,9.07 L-0.55,8.67 Q-0.25,8.37 -0.17,7.85 L-0.07,7.15 Q0.00,6.62 -1.12,6.25 L-2.62,5.75 Q-3.75,5.37 -4.68,4.32 L-5.93,2.92 Q-6.87,1.87 -7.36,0.37 L-8.01,-1.62 Q-8.49,-3.12 -8.49,-5.07 Z"/><path transform="translate(162.2,903.1)" d="M-8.49,-7.67 Q-8.49,-9.62 -7.82,-9.54 L-6.92,-9.44 Q-6.25,-9.37 -5.57,-8.32 L-4.67,-6.92 Q-4.00,-5.87 -3.17,-5.23 L-2.07,-4.38 Q-1.25,-3.75 -0.31,-3.86 L0.94,-4.01 Q1.87,-4.12 2.62,-4.76 L3.62,-5.61 Q4.37,-6.25 4.86,-7.00 L5.51,-8.00 Q6.00,-8.74 6.52,-8.93 L7.22,-9.18 Q7.75,-9.37 8.04,-8.92 L8.44,-8.32 Q8.74,-7.87 8.56,-7.38 L8.31,-6.73 Q8.12,-6.25 8.38,-5.98 L8.73,-5.63 Q8.99,-5.37 8.62,-5.07 L8.12,-4.67 Q7.75,-4.37 7.48,-2.87 L7.13,-0.87 Q6.87,0.62 6.12,1.94 L5.12,3.69 Q4.37,5.00 3.51,5.37 L2.36,5.87 Q1.50,6.25 1.35,7.00 L1.15,8.00 Q1.00,8.74 1.37,8.93 L1.87,9.18 Q2.25,9.37 1.20,9.37 L-0.20,9.37 Q-1.25,9.37 -0.95,9.07 L-0.55,8.67 Q-0.25,8.37 -0.17,7.85 L-0.07,7.15 Q0.00,6.62 -1.12,6.25 L-2.62,5.75 Q-3.75,5.37 -4.68,4.32 L-5.93,2.92 Q-6.87,1.87 -7.36,0.37 L-8.01,-1.62 Q-8.49,-3.12 -8.49,-5.07 Z"/><path transform="translate(127.8,911.4)" d="M-8.49,-7.67 Q-8.49,-9.62 -7.82,-9.54 L-6.92,-9.44 Q-6.25,-9.37 -5.57,-8.32 L-4.67,-6.92 Q-4.00,-5.87 -3.17,-5.23 L-2.07,-4.38 Q-1.25,-3.75 -0.31,-3.86 L0.94,-4.01 Q1.87,-4.12 2.62,-4.76 L3.62,-5.61 Q4.37,-6.25 4.86,-7.00 L5.51,-8.00 Q6.00,-8.74 6.52,-8.93 L7.22,-9.18 Q7.75,-9.37 8.04,-8.92 L8.44,-8.32 Q8.74,-7.87 8.56,-7.38 L8.31,-6.73 Q8.12,-6.25 8.38,-5.98 L8.73,-5.63 Q8.99,-5.37 8.62,-5.07 L8.12,-4.67 Q7.75,-4.37 7.48,-2.87 L7.13,-0.87 Q6.87,0.62 6.12,1.94 L5.12,3.69 Q4.37,5.00 3.51,5.37 L2.36,5.87 Q1.50,6.25 1.35,7.00 L1.15,8.00 Q1.00,8.74 1.37,8.93 L1.87,9.18 Q2.25,9.37 1.20,9.37 L-0.20,9.37 Q-1.25,9.37 -0.95,9.07 L-0.55,8.67 Q-0.25,8.37 -0.17,7.85 L-0.07,7.15 Q0.00,6.62 -1.12,6.25 L-2.62,5.75 Q-3.75,5.37 -4.68,4.32 L-5.93,2.92 Q-6.87,1.87 -7.36,0.37 L-8.01,-1.62 Q-8.49,-3.12 -8.49,-5.07 Z"/><path transform="translate(94.5,922.6)" d="M-8.49,-7.67 Q-8.49,-9.62 -7.82,-9.54 L-6.92,-9.44 Q-6.25,-9.37 -5.57,-8.32 L-4.67,-6.92 Q-4.00,-5.87 -3.17,-5.23 L-2.07,-4.38 Q-1.25,-3.75 -0.31,-3.86 L0.94,-4.01 Q1.87,-4.12 2.62,-4.76 L3.62,-5.61 Q4.37,-6.25 4.86,-7.00 L5.51,-8.00 Q6.00,-8.74 6.52,-8.93 L7.22,-9.18 Q7.75,-9.37 8.04,-8.92 L8.44,-8.32 Q8.74,-7.87 8.56,-7.38 L8.31,-6.73 Q8.12,-6.25 8.38,-5.98 L8.73,-5.63 Q8.99,-5.37 8.62,-5.07 L8.12,-4.67 Q7.75,-4.37 7.48,-2.87 L7.13,-0.87 Q6.87,0.62 6.12,1.94 L5.12,3.69 Q4.37,5.00 3.51,5.37 L2.36,5.87 Q1.50,6.25 1.35,7.00 L1.15,8.00 Q1.00,8.74 1.37,8.93 L1.87,9.18 Q2.25,9.37 1.20,9.37 L-0.20,9.37 Q-1.25,9.37 -0.95,9.07 L-0.55,8.67 Q-0.25,8.37 -0.17,7.85 L-0.07,7.15 Q0.00,6.62 -1.12,6.25 L-2.62,5.75 Q-3.75,5.37 -4.68,4.32 L-5.93,2.92 Q-6.87,1.87 -7.36,0.37 L-8.01,-1.62 Q-8.49,-3.12 -8.49,-5.07 Z"/><polygon points="66.0,871.7 70.5,872.7 76.5,878.0 80.2,884.0 84.0,886.2 79.5,887.7 80.2,891.5 75.0,890.7 69.0,888.5 68.2,892.7 66.0,893.0"/></g>
<path d="M624.9,882.4 Q624.0,882.0 623.2,882.4 L621.8,883.0 Q621.0,883.3 620.7,884.2 L620.3,885.5 Q620.0,886.3 620.4,887.2 L621.0,888.5 Q621.3,889.3 620.2,890.6 L618.5,892.7 Q617.3,894.0 617.0,895.5 L616.4,897.8 Q616.0,899.3 615.9,901.6 L615.8,905.1 Q615.7,907.3 615.2,909.2 L614.5,912.1 Q614.0,914.0 613.7,914.7 L613.3,915.9 Q613.0,916.7 613.4,916.9 L614.0,917.1 Q614.3,917.3 612.7,921.1 L610.3,926.9 Q608.7,930.7 607.7,932.9 L606.3,936.4 Q605.3,938.7 605.0,939.4 L604.4,940.6 Q604.0,941.3 605.8,942.3 L608.6,943.7 Q610.3,944.7 611.3,944.6 L612.7,944.4 Q613.7,944.3 613.8,944.0 L613.9,943.4 Q614.0,943.0 613.2,942.5 L611.8,941.8 Q611.0,941.3 610.9,940.4 L610.8,938.9 Q610.7,938.0 612.0,935.9 L614.0,932.7 Q615.3,930.7 617.0,928.7 L619.7,925.6 Q621.3,923.7 621.9,924.7 L622.8,926.3 Q623.3,927.3 622.0,928.3 L620.0,929.7 Q618.7,930.7 618.9,931.2 L619.1,932.1 Q619.3,932.7 620.5,934.2 L622.2,936.5 Q623.3,938.0 623.7,937.9 L624.3,937.8 Q624.7,937.7 624.7,936.3 L624.7,934.1 Q624.7,932.7 624.9,932.7 L625.4,932.7 Q625.7,932.7 627.1,934.9 L629.3,938.4 Q630.7,940.7 631.1,941.9 L631.9,943.8 Q632.3,945.0 633.4,944.6 L635.0,944.0 Q636.0,943.7 637.3,942.9 L639.4,941.7 Q640.7,941.0 640.7,940.6 L640.7,940.0 Q640.7,939.7 639.5,939.7 L637.5,939.7 Q636.3,939.7 636.2,939.2 L636.1,938.5 Q636.0,938.0 636.9,937.9 L638.4,937.8 Q639.3,937.7 639.5,937.3 L639.8,936.7 Q640.0,936.3 639.1,936.1 L637.6,935.6 Q636.7,935.3 636.5,934.4 L636.2,932.9 Q636.0,932.0 636.7,930.1 L637.9,927.2 Q638.7,925.3 639.8,924.0 L641.5,922.0 Q642.7,920.7 643.8,922.5 L645.5,925.5 Q646.7,927.3 648.0,930.2 L650.0,934.8 Q651.3,937.7 653.4,936.9 L656.6,935.7 Q658.7,935.0 658.9,934.7 L659.1,934.3 Q659.3,934.0 658.2,933.8 L656.5,933.5 Q655.3,933.3 654.3,931.1 L652.7,927.6 Q651.7,925.3 651.0,923.3 L650.0,920.1 Q649.3,918.0 649.3,916.9 L649.3,915.1 Q649.3,914.0 649.8,913.8 L650.5,913.5 Q651.0,913.3 651.1,912.0 L651.2,910.0 Q651.3,908.7 650.8,908.1 L649.9,907.2 Q649.3,906.7 649.1,905.0 L648.9,902.3 Q648.7,900.7 648.5,899.2 L648.2,896.8 Q648.0,895.3 647.4,894.6 L646.6,893.4 Q646.0,892.7 645.9,891.9 L645.8,890.7 Q645.7,890.0 646.1,889.1 L646.9,887.6 Q647.3,886.7 647.1,886.1 L646.9,885.2 Q646.7,884.7 645.8,884.5 L644.5,884.2 Q643.7,884.0 643.0,884.4 L642.0,885.0 Q641.3,885.3 641.3,886.4 L641.3,888.0 Q641.3,889.0 641.6,889.5 L642.1,890.2 Q642.3,890.7 641.3,891.2 L639.7,892.1 Q638.7,892.7 638.2,894.2 L637.5,896.5 Q637.0,898.0 636.9,900.6 L636.8,904.7 Q636.7,907.3 636.5,907.3 L636.2,907.3 Q636.0,907.3 635.8,905.1 L635.5,901.6 Q635.3,899.3 634.5,897.2 L633.2,893.8 Q632.3,891.7 632.7,890.9 L633.3,889.7 Q633.7,889.0 634.2,887.8 L635.1,885.9 Q635.7,884.7 635.4,884.1 L634.9,883.2 Q634.7,882.7 633.7,882.5 L632.3,882.2 Q631.3,882.0 630.7,882.6 L629.7,883.4 Q629.0,884.0 628.7,884.7 L628.3,885.7 Q628.0,886.3 627.8,885.5 L627.5,884.2 Q627.3,883.3 626.4,883.0 Z " fill="#afd1e5" fill-rule="evenodd"/><path d="M887.8,886.2 Q886.8,885.9 885.8,886.3 L884.3,886.9 Q883.4,887.3 883.0,888.1 L882.5,889.5 Q882.1,890.4 882.4,890.8 L882.8,891.6 Q883.0,892.1 881.7,892.1 L879.6,892.1 Q878.2,892.1 878.1,893.7 L878.1,896.3 Q878.0,897.9 877.2,899.0 L875.9,900.6 Q875.1,901.7 875.7,902.4 L876.6,903.4 Q877.2,904.1 877.5,906.4 L877.9,910.0 Q878.2,912.4 877.7,913.7 L877.0,915.8 Q876.5,917.2 876.7,918.9 L877.0,921.6 Q877.2,923.3 876.8,924.5 L876.2,926.3 Q875.8,927.5 873.7,930.4 L870.4,934.9 Q868.2,937.8 868.2,938.4 L868.1,939.3 Q868.1,939.8 868.7,940.9 L869.7,942.6 Q870.3,943.6 871.5,943.6 L873.3,943.6 Q874.4,943.6 874.2,942.6 L873.9,940.9 Q873.7,939.8 876.0,936.6 L879.7,931.4 Q882.0,928.2 882.0,932.2 L882.0,938.5 Q882.0,942.6 882.4,943.2 L883.0,944.1 Q883.4,944.6 885.9,944.6 L889.8,944.6 Q892.3,944.6 892.2,944.2 L892.0,943.4 Q891.9,942.9 891.0,942.4 L889.5,941.7 Q888.5,941.2 888.1,940.1 L887.5,938.2 Q887.1,937.1 887.6,933.0 L888.4,926.7 Q888.9,922.7 889.3,922.6 L890.1,922.4 Q890.6,922.3 890.9,921.4 L891.3,920.1 Q891.6,919.2 891.3,918.1 L890.9,916.3 Q890.6,915.1 890.4,912.0 L890.1,907.2 Q889.9,904.1 889.6,902.6 L889.1,900.2 Q888.9,898.6 889.2,898.5 L889.8,898.4 Q890.2,898.3 890.6,896.5 L891.2,893.8 Q891.6,892.1 891.7,891.4 L891.9,890.4 Q891.9,889.7 891.5,888.9 L890.7,887.7 Q890.2,886.9 889.3,886.6 Z " fill="#afd1e5" fill-rule="evenodd"/><polygon points="878.2,892.1 891.6,892.1 958.9,896.2 958.9,901.0 942.4,901.0 888.9,898.6 878.0,897.9" fill="#afd1e5"/><path d="M948.7,890.7 Q947.9,890.4 947.1,890.8 L945.7,891.4 Q944.9,891.7 944.6,892.6 L944.1,894.0 Q943.8,894.8 943.9,895.2 L944.1,895.8 Q944.2,896.2 943.7,897.6 L942.9,899.7 Q942.4,901.0 941.6,901.9 L940.2,903.2 Q939.4,904.1 939.1,907.6 L938.6,913.0 Q938.3,916.5 937.9,919.9 L937.3,925.4 Q936.9,928.8 935.2,931.5 L932.5,935.8 Q930.8,938.5 930.0,940.4 L928.8,943.4 Q928.0,945.3 929.0,946.4 L930.5,948.1 Q931.5,949.1 932.7,949.0 L934.7,948.9 Q935.9,948.8 935.6,947.7 L935.2,946.0 Q934.9,945.0 936.8,942.6 L939.8,938.8 Q941.8,936.4 941.6,939.3 L941.3,943.8 Q941.1,946.7 941.5,947.6 L942.1,948.9 Q942.4,949.8 944.8,949.9 L948.4,950.0 Q950.7,950.1 950.8,949.7 L950.9,948.9 Q951.0,948.4 950.1,947.9 L948.6,947.2 Q947.6,946.7 947.5,944.4 L947.4,940.8 Q947.3,938.5 947.5,935.0 L948.0,929.6 Q948.3,926.1 948.7,925.3 L949.3,924.1 Q949.7,923.3 949.7,918.9 L949.7,912.0 Q949.7,907.5 949.6,907.0 L949.4,906.1 Q949.3,905.5 950.1,904.5 L951.3,903.0 Q952.1,902.0 952.3,901.7 L952.6,901.1 Q952.8,900.7 952.7,899.4 L952.5,897.5 Q952.4,896.2 952.4,895.5 L952.4,894.5 Q952.4,893.8 951.9,893.1 L951.2,892.1 Q950.7,891.4 949.9,891.1 Z " fill="#afd1e5" fill-rule="evenodd"/><path d="M1222.7,971.6 Q1221.2,970.4 1220.1,971.6 L1218.2,973.4 Q1217.1,974.6 1217.7,976.0 L1218.6,978.3 Q1219.2,979.8 1216.8,980.1 L1213.2,980.5 Q1210.8,980.8 1210.0,984.3 L1208.6,989.8 Q1207.7,993.3 1207.4,996.8 L1207.0,1002.3 Q1206.7,1005.8 1207.5,1006.4 L1208.9,1007.3 Q1209.8,1007.9 1207.8,1014.9 L1204.5,1025.9 Q1202.5,1032.9 1201.5,1034.1 L1199.8,1035.9 Q1198.8,1037.1 1200.1,1038.0 L1202.2,1039.3 Q1203.5,1040.2 1204.7,1039.6 L1206.5,1038.7 Q1207.7,1038.1 1210.3,1030.8 L1214.5,1019.4 Q1217.1,1012.1 1219.1,1016.2 L1222.3,1022.6 Q1224.4,1026.7 1225.2,1030.0 L1226.6,1035.4 Q1227.5,1038.8 1228.7,1038.8 L1230.5,1038.8 Q1231.7,1038.8 1231.1,1035.1 L1230.2,1029.3 Q1229.6,1025.6 1228.4,1021.2 L1226.6,1014.4 Q1225.4,1010.0 1226.0,1008.0 L1226.9,1004.8 Q1227.5,1002.7 1229.5,1004.2 L1232.8,1006.5 Q1234.8,1007.9 1238.6,1011.1 L1244.5,1016.2 Q1248.3,1019.4 1249.8,1019.8 L1252.1,1020.4 Q1253.5,1020.8 1253.2,1020.0 L1252.8,1018.7 Q1252.5,1017.9 1248.1,1014.5 L1241.2,1009.2 Q1236.9,1005.8 1235.4,1003.8 L1233.1,1000.6 Q1231.7,998.5 1230.8,995.3 L1229.4,990.3 Q1228.5,987.1 1227.4,985.3 L1225.5,982.6 Q1224.4,980.8 1225.0,979.1 L1225.9,976.3 Q1226.5,974.6 1225.0,973.4 Z " fill="#afd1e5" fill-rule="evenodd"/><path d="M1270.8,955.5 Q1270.2,953.8 1266.4,954.3 L1260.5,955.2 Q1256.7,955.8 1254.9,957.0 L1252.2,958.8 Q1250.4,960.0 1249.0,962.9 L1246.7,967.5 Q1245.2,970.4 1243.2,973.0 L1240.0,977.2 Q1237.9,979.8 1237.8,980.8 L1237.6,982.3 Q1237.5,983.3 1238.8,983.7 L1240.8,984.2 Q1242.1,984.6 1243.5,983.0 L1245.8,980.4 Q1247.3,978.8 1249.6,975.8 L1253.3,971.2 Q1255.6,968.3 1256.8,970.1 L1258.6,972.8 Q1259.8,974.6 1259.5,977.2 L1259.0,981.3 Q1258.8,984.0 1260.8,984.2 L1264.0,984.7 Q1266.0,985.0 1265.9,984.0 L1265.6,982.3 Q1265.4,981.2 1264.7,980.8 L1263.6,980.2 Q1262.9,979.8 1264.1,976.6 L1265.9,971.5 Q1267.1,968.3 1268.5,966.0 L1270.8,962.3 Q1272.3,960.0 1271.7,958.2 Z " fill="#afd1e5" fill-rule="evenodd"/><path d="M1336.0,935.6 Q1334.8,935.0 1333.8,935.9 L1332.2,937.2 Q1331.2,938.1 1331.8,939.6 L1332.8,941.9 Q1333.3,943.3 1334.3,943.9 L1335.9,944.8 Q1336.9,945.4 1336.0,948.3 L1334.6,952.9 Q1333.8,955.8 1333.9,959.3 L1334.0,964.8 Q1334.2,968.3 1334.6,971.8 L1335.4,977.3 Q1335.8,980.8 1334.2,981.4 L1331.6,982.3 Q1330.0,982.9 1330.5,983.5 L1331.2,984.4 Q1331.7,985.0 1333.7,984.7 L1336.9,984.2 Q1339.0,984.0 1339.2,984.5 L1339.7,985.5 Q1340.0,986.0 1341.6,985.9 L1344.2,985.6 Q1345.8,985.4 1345.7,982.4 L1345.4,977.6 Q1345.2,974.6 1345.8,971.1 L1346.7,965.6 Q1347.3,962.1 1347.7,961.2 L1348.3,959.8 Q1348.8,959.0 1348.0,955.2 L1347.0,949.2 Q1346.2,945.4 1344.8,944.2 L1342.5,942.4 Q1341.0,941.2 1340.5,940.1 L1339.5,938.2 Q1339.0,937.1 1337.8,936.5 Z " fill="#afd1e5" fill-rule="evenodd"/><path d="M1299.5,963.7 Q1298.3,963.1 1296.9,964.0 L1294.6,965.4 Q1293.1,966.2 1293.7,967.7 L1294.6,970.0 Q1295.2,971.5 1294.3,975.2 L1293.0,981.2 Q1292.1,985.0 1291.8,988.8 L1291.3,994.8 Q1291.0,998.5 1291.6,1000.6 L1292.5,1003.8 Q1293.1,1005.8 1294.6,1006.4 L1296.9,1007.3 Q1298.3,1007.9 1299.5,1010.2 L1301.3,1013.9 Q1302.5,1016.2 1302.8,1020.3 L1303.2,1026.8 Q1303.5,1030.8 1303.8,1032.9 L1304.3,1036.1 Q1304.6,1038.1 1302.8,1038.7 L1300.1,1039.6 Q1298.3,1040.2 1298.6,1040.8 L1299.1,1041.7 Q1299.4,1042.3 1302.3,1042.0 L1306.9,1041.5 Q1309.8,1041.2 1310.4,1037.8 L1311.3,1032.2 Q1311.9,1028.8 1312.2,1023.5 L1312.6,1015.2 Q1312.9,1010.0 1314.4,1011.5 L1316.7,1013.8 Q1318.1,1015.2 1319.6,1021.3 L1321.9,1031.0 Q1323.3,1037.1 1323.6,1038.5 L1324.1,1040.8 Q1324.4,1042.3 1326.1,1042.1 L1328.9,1041.8 Q1330.6,1041.7 1330.0,1040.1 L1329.1,1037.6 Q1328.5,1036.0 1327.7,1031.1 L1326.3,1023.3 Q1325.4,1018.3 1324.0,1011.3 L1321.7,1000.3 Q1320.2,993.3 1319.9,989.8 L1319.5,984.3 Q1319.2,980.8 1318.0,978.8 L1316.2,975.6 Q1315.0,973.5 1312.7,972.4 L1309.0,970.5 Q1306.7,969.4 1305.5,968.2 L1303.7,966.4 Q1302.5,965.2 1301.3,964.6 Z " fill="#afd1e5" fill-rule="evenodd"/><rect x="1226.5" y="1025.6" width="24.0" height="13.5" fill="#afd1e5"/><rect x="1253.5" y="1019.4" width="8.3" height="19.8" fill="#afd1e5"/><rect x="1272.3" y="932.9" width="10.4" height="106.3" fill="#afd1e5"/><rect x="1271.2" y="1010.0" width="14.6" height="29.2" fill="#afd1e5"/><rect x="1264.4" y="994.4" width="5.2" height="56.2" fill="#afd1e5"/><rect x="1278.3" y="935.0" width="2.5" height="74.0" fill="#eaeaea"/><polygon points="1268.1,974.6 1333.8,959.6 1333.8,963.1 1268.1,977.7" fill="#afd1e5"/><path d="M1299.4,1007.9 L1284.8,1042.3" stroke="#afd1e5" stroke-width="2.4" fill="none"/><path d="M1104.5,956.4 Q1102.3,956.0 1100.3,956.7 L1097.0,957.7 Q1095.0,958.4 1094.0,960.7 L1092.4,964.2 Q1091.4,966.5 1090.7,969.3 L1089.8,973.8 Q1089.2,976.7 1089.4,978.3 L1089.7,980.9 Q1089.9,982.5 1088.9,983.9 L1087.3,986.2 Q1086.3,987.6 1086.0,989.9 L1085.7,993.4 Q1085.5,995.6 1085.5,1000.1 L1085.5,1007.2 Q1085.5,1011.7 1086.1,1015.3 L1087.1,1021.1 Q1087.7,1024.8 1087.7,1028.7 L1087.7,1034.8 Q1087.7,1038.6 1086.1,1039.7 L1083.5,1041.3 Q1081.9,1042.3 1079.8,1042.7 L1076.6,1043.3 Q1074.6,1043.8 1074.1,1044.6 L1073.3,1045.9 Q1072.8,1046.7 1072.9,1053.2 L1073.0,1063.5 Q1073.1,1070.0 1079.5,1071.3 L1089.4,1073.4 Q1095.7,1074.7 1095.9,1077.4 L1096.3,1081.8 Q1096.5,1084.6 1097.3,1086.2 L1098.6,1088.8 Q1099.4,1090.4 1101.2,1091.0 L1104.1,1092.0 Q1105.9,1092.6 1106.1,1091.4 L1106.5,1089.5 Q1106.7,1088.2 1109.1,1087.3 L1113.0,1085.8 Q1115.4,1084.9 1116.6,1085.4 L1118.6,1086.2 Q1119.8,1086.8 1121.4,1086.5 L1124.0,1086.0 Q1125.6,1085.8 1123.8,1084.4 L1120.9,1082.3 Q1119.1,1080.9 1119.3,1074.6 L1119.6,1064.7 Q1119.8,1058.3 1119.4,1051.8 L1118.7,1041.5 Q1118.3,1035.0 1116.9,1029.3 L1114.7,1020.3 Q1113.2,1014.6 1113.2,1013.6 L1113.2,1012.0 Q1113.2,1010.9 1118.3,1011.6 L1126.4,1012.5 Q1131.5,1013.1 1132.7,1013.3 L1134.6,1013.7 Q1135.8,1013.9 1136.9,1013.4 L1138.5,1012.8 Q1139.5,1012.4 1139.7,1010.8 L1140.0,1008.2 Q1140.2,1006.6 1139.0,1005.5 L1137.1,1003.7 Q1135.8,1002.6 1134.6,1003.2 L1132.7,1004.1 Q1131.5,1004.7 1127.8,1004.7 L1122.0,1004.7 Q1118.3,1004.7 1117.7,1000.1 L1116.8,992.9 Q1116.1,988.3 1115.5,986.9 L1114.6,984.7 Q1114.0,983.2 1112.7,982.4 L1110.8,981.1 Q1109.6,980.3 1109.4,979.3 L1109.1,977.7 Q1108.9,976.7 1109.5,976.3 L1110.4,975.6 Q1111.0,975.2 1110.8,974.4 L1110.5,973.1 Q1110.3,972.3 1110.9,971.5 L1111.9,970.2 Q1112.5,969.4 1112.1,968.4 L1111.5,966.8 Q1111.0,965.7 1111.1,964.5 L1111.3,962.6 Q1111.3,961.4 1111.0,960.3 L1110.6,958.7 Q1110.3,957.7 1108.1,957.2 Z " fill="#394662" fill-rule="evenodd"/><path d="M1161.4,941.0 Q1159.2,940.2 1157.1,940.8 L1153.9,941.8 Q1151.9,942.4 1150.9,943.6 L1149.3,945.5 Q1148.2,946.8 1148.6,948.2 L1149.3,950.4 Q1149.7,951.9 1149.5,953.5 L1149.2,956.1 Q1149.0,957.7 1149.6,958.1 L1150.5,958.8 Q1151.1,959.2 1151.6,960.6 L1152.2,962.8 Q1152.6,964.3 1153.8,965.1 L1155.8,966.4 Q1157.0,967.2 1155.3,969.0 L1152.8,971.9 Q1151.1,973.8 1150.1,977.0 L1148.5,982.2 Q1147.5,985.4 1147.1,989.1 L1146.5,994.9 Q1146.0,998.5 1145.6,999.8 L1145.0,1001.7 Q1144.6,1002.9 1143.4,1003.1 L1141.4,1003.4 Q1140.2,1003.6 1139.4,1004.3 L1138.1,1005.2 Q1137.3,1005.8 1138.1,1007.7 L1139.4,1010.6 Q1140.2,1012.4 1141.2,1013.2 L1142.8,1014.5 Q1143.9,1015.3 1143.2,1017.2 L1142.3,1020.0 Q1141.7,1021.9 1142.5,1023.5 L1143.8,1026.1 Q1144.6,1027.7 1144.6,1033.0 L1144.6,1041.4 Q1144.6,1046.7 1145.0,1053.2 L1145.6,1063.5 Q1146.0,1070.0 1145.4,1071.2 L1144.5,1073.2 Q1143.9,1074.4 1142.0,1075.0 L1139.1,1076.0 Q1137.3,1076.6 1137.3,1077.6 L1137.3,1079.2 Q1137.3,1080.2 1138.9,1080.6 L1141.5,1081.3 Q1143.1,1081.7 1145.2,1081.5 L1148.4,1081.1 Q1150.4,1080.9 1152.5,1081.3 L1155.7,1082.0 Q1157.7,1082.4 1157.5,1084.6 L1157.2,1088.2 Q1157.0,1090.4 1156.0,1091.8 L1154.4,1094.1 Q1153.3,1095.5 1153.5,1096.7 L1153.9,1098.7 Q1154.1,1099.9 1155.9,1100.1 L1158.8,1100.4 Q1160.6,1100.6 1162.7,1098.6 L1165.9,1095.4 Q1167.9,1093.3 1168.3,1092.1 L1169.0,1090.2 Q1169.4,1089.0 1169.2,1085.3 L1168.9,1079.5 Q1168.6,1075.8 1169.5,1071.8 L1170.7,1065.3 Q1171.6,1061.3 1171.4,1052.7 L1171.0,1039.2 Q1170.8,1030.6 1171.4,1030.2 L1172.4,1029.6 Q1173.0,1029.2 1173.6,1022.6 L1174.6,1012.4 Q1175.2,1005.8 1176.4,998.9 L1178.4,988.0 Q1179.6,981.0 1178.8,978.4 L1177.5,974.2 Q1176.7,971.6 1174.2,969.1 L1170.4,965.3 Q1167.9,962.8 1167.7,961.4 L1167.4,959.1 Q1167.2,957.7 1167.8,955.3 L1168.8,951.4 Q1169.4,949.0 1168.8,947.3 L1167.8,944.8 Q1167.2,943.1 1164.9,942.3 Z " fill="#394662" fill-rule="evenodd"/><path d="M833.9,937.6 Q832.7,937.4 831.2,938.0 L828.7,939.0 Q827.1,939.6 826.3,941.2 L825.1,943.7 Q824.3,945.2 824.2,947.6 L823.9,951.3 Q823.7,953.7 822.2,954.8 L819.7,956.5 Q818.1,957.6 817.6,959.2 L816.7,961.7 Q816.1,963.2 816.2,966.7 L816.3,972.2 Q816.4,975.6 816.3,981.6 L816.2,991.0 Q816.1,997.0 815.6,998.6 L814.7,1001.0 Q814.2,1002.6 812.1,1002.6 L808.9,1002.6 Q806.9,1002.6 806.2,1003.3 L805.1,1004.2 Q804.4,1004.9 804.2,1010.2 L803.9,1018.6 Q803.7,1024.0 807.9,1025.9 L814.5,1028.9 Q818.7,1030.7 818.5,1033.0 L818.3,1036.4 Q818.1,1038.6 819.4,1040.7 L821.4,1043.9 Q822.6,1045.9 824.2,1046.9 L826.7,1048.4 Q828.2,1049.3 829.0,1048.7 L830.3,1047.7 Q831.1,1047.1 833.1,1046.7 L836.3,1046.3 Q838.4,1045.9 840.3,1046.1 L843.2,1046.3 Q845.1,1046.5 845.3,1045.6 L845.5,1044.1 Q845.7,1043.1 844.9,1041.9 L843.7,1039.9 Q842.9,1038.6 843.3,1036.1 L844.1,1032.1 Q844.6,1029.6 844.4,1020.5 L844.2,1006.1 Q844.0,997.0 843.8,993.8 L843.6,988.9 Q843.4,985.7 842.8,983.2 L841.8,979.3 Q841.2,976.7 841.3,974.9 L841.6,971.9 Q841.7,970.0 843.0,970.6 L845.0,971.6 Q846.2,972.2 847.7,971.9 L849.9,971.4 Q851.3,971.1 851.6,970.0 L852.1,968.3 Q852.4,967.2 851.3,965.1 L849.6,961.9 Q848.5,959.9 847.2,958.8 L845.3,957.0 Q844.0,955.9 843.8,954.7 L843.6,952.7 Q843.4,951.4 842.5,950.3 L841.0,948.6 Q840.1,947.5 839.9,945.9 L839.7,943.4 Q839.5,941.9 838.7,940.9 L837.5,939.3 Q836.7,938.3 835.6,938.0 Z " fill="#3a4763" fill-rule="evenodd"/><path d="M609.6,954.7 Q608.5,954.0 607.3,954.7 L605.5,955.9 Q604.3,956.6 604.0,958.1 L603.5,960.5 Q603.1,962.0 603.8,963.6 L604.9,966.2 Q605.5,967.9 603.4,968.7 L600.0,970.0 Q597.8,970.9 596.6,972.9 L594.8,976.0 Q593.6,978.0 592.9,980.3 L591.7,984.0 Q590.9,986.3 591.2,987.9 L591.6,990.6 Q591.9,992.2 592.9,993.5 L594.4,995.6 Q595.4,997.0 595.1,997.6 L594.6,998.7 Q594.2,999.3 595.6,999.2 L597.7,998.9 Q599.0,998.7 599.2,1000.9 L599.4,1004.3 Q599.6,1006.5 599.1,1010.8 L598.3,1017.6 Q597.8,1021.9 598.0,1026.2 L598.2,1033.0 Q598.4,1037.3 598.1,1038.6 L597.5,1040.7 Q597.2,1042.1 598.0,1042.6 L599.3,1043.3 Q600.2,1043.8 601.0,1043.0 L602.3,1041.7 Q603.1,1040.9 603.6,1036.6 L604.4,1029.8 Q604.9,1025.4 606.4,1020.1 L608.8,1011.8 Q610.3,1006.5 611.6,1009.1 L613.7,1013.3 Q615.0,1016.0 616.2,1019.3 L618.0,1024.5 Q619.2,1027.8 619.7,1031.1 L620.4,1036.4 Q620.9,1039.7 621.9,1040.4 L623.5,1041.6 Q624.5,1042.3 625.3,1041.7 L626.6,1040.8 Q627.5,1040.3 626.8,1038.8 L625.8,1036.4 Q625.1,1034.9 625.0,1031.0 L624.9,1024.7 Q624.9,1020.7 623.9,1015.4 L622.5,1007.0 Q621.5,1001.7 620.7,998.2 L619.4,992.7 Q618.6,989.3 619.7,988.9 L621.6,988.4 Q622.7,988.1 624.6,985.9 L627.4,982.5 Q629.3,980.4 631.1,983.0 L634.0,987.2 Q635.8,989.8 636.1,989.7 L636.6,989.4 Q637.0,989.3 635.6,986.9 L633.5,983.3 Q632.2,980.9 632.7,980.0 L633.5,978.6 Q634.0,977.7 633.2,977.3 L631.9,976.6 Q631.0,976.2 629.0,974.2 L625.9,971.1 Q623.9,969.1 623.6,969.2 L623.2,969.5 Q623.0,969.7 624.6,971.9 L627.1,975.5 Q628.7,977.7 627.8,978.6 L626.5,980.0 Q625.7,980.9 624.4,980.9 L622.3,980.9 Q620.9,980.9 620.6,979.1 L620.1,976.2 Q619.8,974.4 618.6,973.1 L616.8,971.0 Q615.6,969.7 614.4,969.2 L612.6,968.4 Q611.5,967.9 612.1,966.2 L613.2,963.6 Q613.8,962.0 613.5,960.5 L613.0,958.1 Q612.6,956.6 611.5,955.9 Z " fill="#47536e" fill-rule="evenodd"/><polygon points="665.4,960.2 709.4,958.4 722.4,957.8 760.4,957.2 756.8,961.4 735.5,963.1 705.8,965.5 671.4,967.1 670.2,965.2 665.4,963.1" fill="#3f4c6a"/><path d="M713.9,949.3 Q712.9,949.3 711.9,950.0 L710.4,951.1 Q709.4,951.9 709.4,953.9 L709.5,957.0 Q709.6,959.0 708.2,961.3 L706.0,965.0 Q704.6,967.3 703.1,971.9 L700.8,979.3 Q699.3,983.9 699.3,987.2 L699.3,992.5 Q699.3,995.8 699.8,996.9 L700.6,998.8 Q701.1,999.9 701.9,999.1 L703.2,997.8 Q704.0,997.0 703.9,995.0 L703.6,991.8 Q703.4,989.8 703.9,988.2 L704.7,985.6 Q705.2,983.9 706.0,986.2 L707.3,989.9 Q708.2,992.2 709.2,996.2 L710.7,1002.5 Q711.7,1006.5 711.2,1010.8 L710.5,1017.6 Q710.0,1021.9 709.8,1024.2 L709.5,1027.9 Q709.4,1030.2 710.9,1031.7 L713.2,1034.0 Q714.7,1035.5 716.7,1034.9 L719.8,1033.8 Q721.8,1033.2 721.5,1032.5 L721.0,1031.5 Q720.6,1030.8 720.8,1028.0 L721.1,1023.5 Q721.2,1020.7 722.4,1016.7 L724.2,1010.4 Q725.4,1006.5 725.7,1002.8 L726.2,997.1 Q726.6,993.4 726.1,989.8 L725.3,984.0 Q724.8,980.4 725.0,977.9 L725.2,973.9 Q725.4,971.5 727.9,971.0 L731.8,970.2 Q734.3,969.7 734.9,968.8 L736.0,967.5 Q736.7,966.7 736.3,964.5 L735.8,961.1 Q735.5,959.0 734.1,958.0 L732.1,956.4 Q730.7,955.4 728.9,955.9 L726.0,956.7 Q724.2,957.2 723.0,957.4 L721.2,957.6 Q720.0,957.8 719.9,956.1 L719.6,953.5 Q719.4,951.9 718.6,951.2 L717.3,950.2 Q716.5,949.5 715.5,949.4 Z " fill="#3f4c6a" fill-rule="evenodd"/><path d="M476.1,918.4 Q476.2,916.8 477.3,916.3 L478.9,915.6 Q480.0,915.1 482.6,915.1 L486.6,915.1 Q489.2,915.1 490.7,915.4 L493.1,916.0 Q494.6,916.3 494.7,917.5 L494.9,919.3 Q495.0,920.5 495.8,921.7 L497.1,923.5 Q497.9,924.7 498.4,926.1 L499.1,928.3 Q499.6,929.7 498.8,931.8 L497.5,935.1 Q496.7,937.2 495.9,938.8 L494.6,941.4 Q493.8,943.0 493.8,945.8 L493.8,950.2 Q493.8,953.0 493.6,956.7 L493.4,962.6 Q493.3,966.3 493.2,970.1 L493.0,975.9 Q492.9,979.7 492.8,982.9 L492.6,988.1 Q492.5,991.3 491.8,992.3 L490.7,993.7 Q490.0,994.7 490.2,995.7 L490.6,997.4 Q490.8,998.4 491.8,998.9 L493.2,999.6 Q494.2,1000.1 492.3,1000.2 L489.4,1000.5 Q487.5,1000.7 487.3,999.8 L486.9,998.4 Q486.7,997.6 486.0,997.7 L484.9,997.9 Q484.2,998.0 483.9,998.6 L483.6,999.5 Q483.3,1000.1 482.5,1000.0 L481.2,999.8 Q480.4,999.7 480.5,998.7 L480.7,997.3 Q480.8,996.3 480.0,994.9 L478.7,992.7 Q477.9,991.3 477.8,989.0 L477.6,985.3 Q477.5,983.0 476.3,982.5 L474.5,981.8 Q473.3,981.3 473.9,978.3 L474.8,973.5 Q475.4,970.5 476.2,966.8 L477.5,960.9 Q478.3,957.2 478.0,956.2 L477.4,954.8 Q477.1,953.8 477.9,953.1 L479.2,952.0 Q480.0,951.3 479.9,948.5 L479.7,944.1 Q479.6,941.3 478.3,939.9 L476.3,937.7 Q475.0,936.3 473.9,934.9 L472.1,932.7 Q471.0,931.3 471.7,929.9 L472.7,927.7 Q473.3,926.3 474.0,925.3 L475.1,923.6 Q475.8,922.6 475.9,921.0 Z M477.1,929.2 Q477.5,928.8 478.7,929.0 L480.6,929.2 Q481.8,929.3 482.0,930.4 L482.3,932.0 Q482.5,933.0 482.7,933.7 L483.0,934.9 Q483.2,935.7 482.6,935.8 L481.6,935.9 Q481.0,936.0 480.1,935.1 L478.8,933.7 Q477.9,932.8 477.4,932.1 L476.5,930.9 Q476.0,930.2 476.4,929.8 Z M491.2,930.4 Q491.5,929.3 492.5,929.2 L494.0,929.1 Q495.0,929.0 495.2,929.4 L495.6,930.0 Q495.8,930.3 495.1,931.5 L494.0,933.5 Q493.3,934.7 492.4,935.1 L490.8,935.9 Q489.8,936.3 490.0,935.4 L490.3,933.9 Q490.5,933.0 490.8,932.0 Z " fill="#535e77" fill-rule="evenodd"/><rect x="476.3" y="915.2" width="18.7" height="12.8" rx="1.2" fill="#535e77"/><path d="M512.4,923.4 Q511.7,923.0 510.6,923.5 L509.0,924.2 Q507.9,924.7 507.3,926.1 L506.4,928.3 Q505.8,929.7 505.6,931.3 L505.2,933.9 Q505.0,935.5 503.8,937.1 L502.0,939.7 Q500.8,941.3 500.1,943.2 L499.0,946.1 Q498.3,948.0 498.4,949.2 L498.5,951.0 Q498.5,952.2 499.6,953.0 L501.4,954.3 Q502.5,955.1 502.1,956.8 L501.6,959.6 Q501.2,961.3 501.4,965.1 L501.6,970.9 Q501.7,974.7 501.8,979.3 L502.0,986.7 Q502.1,991.3 502.0,992.7 L501.8,994.9 Q501.7,996.3 502.4,997.4 L503.5,999.0 Q504.2,1000.1 505.1,1000.4 L506.6,1000.9 Q507.5,1001.2 509.1,1000.9 L511.7,1000.4 Q513.3,1000.1 515.2,1000.2 L518.1,1000.4 Q520.0,1000.5 520.8,999.9 L522.1,999.0 Q522.9,998.4 522.7,996.4 L522.3,993.3 Q522.1,991.3 521.4,986.7 L520.3,979.3 Q519.6,974.7 519.1,970.9 L518.4,965.1 Q517.9,961.3 517.8,959.9 L517.6,957.7 Q517.5,956.3 519.1,955.2 L521.7,953.3 Q523.3,952.2 524.1,951.1 L525.4,949.5 Q526.2,948.4 525.7,946.9 L524.8,944.5 Q524.2,943.0 523.0,941.6 L521.2,939.4 Q520.0,938.0 519.1,937.1 L517.6,935.6 Q516.7,934.7 516.4,932.8 L516.1,929.9 Q515.8,928.0 515.4,927.0 L514.6,925.3 Q514.2,924.2 513.5,923.9 Z M519.0,947.9 Q519.6,946.5 520.2,947.4 L521.1,948.8 Q521.7,949.7 520.8,950.7 L519.4,952.2 Q518.5,953.2 518.2,952.7 L517.8,951.9 Q517.5,951.3 518.1,950.0 Z " fill="#515c75" fill-rule="evenodd"/><path d="M367.9,912.4 Q369.0,911.8 370.0,912.3 L371.5,913.0 Q372.5,913.5 373.2,914.6 L374.3,916.4 Q375.0,917.5 375.1,918.5 L375.4,920.0 Q375.5,921.0 375.1,921.6 L374.4,922.4 Q374.0,923.0 375.7,923.1 L378.3,923.4 Q380.0,923.5 380.5,924.1 L381.3,924.9 Q381.8,925.5 381.6,926.2 L381.2,927.3 Q381.0,928.0 380.3,928.7 L379.2,929.8 Q378.5,930.5 377.8,931.2 L376.7,932.3 Q376.0,933.0 375.9,935.0 L375.6,938.0 Q375.5,940.0 375.2,942.0 L374.8,945.0 Q374.5,947.0 374.4,949.5 L374.1,953.5 Q374.0,956.0 374.3,958.2 L374.7,961.8 Q375.0,964.0 375.1,966.2 L375.4,969.8 Q375.5,972.0 375.2,974.2 L374.8,977.8 Q374.5,980.0 373.9,981.4 L373.1,983.6 Q372.5,985.0 371.0,985.4 L368.5,986.1 Q367.0,986.5 367.3,987.3 L367.7,988.7 Q368.0,989.5 366.6,990.3 L364.4,991.7 Q363.0,992.5 361.7,991.9 L359.8,991.1 Q358.5,990.5 357.5,989.8 L356.0,988.7 Q355.0,988.0 355.1,987.2 L355.4,985.8 Q355.5,985.0 354.8,984.4 L353.7,983.6 Q353.0,983.0 353.3,979.9 L353.7,975.1 Q354.0,972.0 353.3,969.8 L352.2,966.2 Q351.5,964.0 351.4,961.8 L351.1,958.2 Q351.0,956.0 351.3,953.8 L351.7,950.2 Q352.0,948.0 351.2,947.6 L349.8,946.9 Q349.0,946.5 348.0,945.2 L346.5,943.3 Q345.5,942.0 344.7,939.5 L343.3,935.5 Q342.5,933.0 341.7,931.9 L340.3,930.1 Q339.5,929.0 339.6,927.9 L339.9,926.1 Q340.0,925.0 340.7,924.3 L341.8,923.2 Q342.5,922.5 343.5,922.9 L345.0,923.4 Q346.0,923.8 350.5,923.9 L357.5,923.9 Q362.0,924.0 362.8,923.6 L364.2,922.9 Q365.0,922.5 364.7,921.4 L364.3,919.6 Q364.0,918.5 364.3,917.2 L364.7,915.3 Q365.0,914.0 366.1,913.4 Z " fill="#686d82" fill-rule="evenodd"/><path d="M103.0,948.3 Q102.0,948.1 100.5,948.9 L98.2,950.0 Q96.7,950.7 96.1,952.0 L95.1,953.9 Q94.5,955.2 94.9,955.9 L95.6,957.0 Q96.0,957.7 97.0,958.2 L98.7,958.8 Q99.7,959.2 97.6,960.4 L94.3,962.3 Q92.2,963.4 90.6,965.1 L87.9,967.8 Q86.2,969.4 85.5,971.7 L84.4,975.4 Q83.7,977.7 84.0,979.6 L84.4,982.5 Q84.7,984.4 85.8,985.5 L87.4,987.1 Q88.5,988.2 85.1,988.7 L79.9,989.6 Q76.5,990.1 76.4,990.5 L76.3,991.2 Q76.2,991.6 79.6,991.4 L85.0,991.0 Q88.5,990.7 89.1,991.9 L90.1,993.7 Q90.7,994.9 90.7,999.1 L90.7,1005.7 Q90.7,1009.9 90.1,1013.3 L89.1,1018.5 Q88.5,1021.9 89.1,1022.7 L90.1,1023.8 Q90.7,1024.6 91.8,1023.8 L93.4,1022.7 Q94.5,1021.9 95.5,1016.9 L97.2,1008.9 Q98.2,1003.9 98.6,1007.7 L99.3,1013.6 Q99.7,1017.4 101.2,1018.9 L103.5,1021.2 Q105.0,1022.6 106.0,1022.0 L107.7,1021.0 Q108.7,1020.4 107.5,1018.7 L105.5,1016.1 Q104.2,1014.4 104.6,1009.4 L105.3,1001.5 Q105.7,996.4 106.8,996.0 L108.4,995.3 Q109.5,994.9 109.7,992.6 L110.0,989.0 Q110.2,986.7 112.3,986.4 L115.6,985.9 Q117.7,985.6 118.6,986.0 L119.9,986.7 Q120.7,987.1 122.6,986.6 L125.6,985.7 Q127.5,985.2 128.7,986.0 L130.7,987.3 Q132.0,988.2 133.6,987.9 L136.3,987.4 Q138.0,987.1 138.5,986.2 L139.2,984.6 Q139.8,983.7 139.0,982.6 L137.9,981.0 Q137.2,979.9 135.3,979.7 L132.3,979.4 Q130.5,979.2 129.8,980.0 L128.8,981.3 Q128.2,982.2 126.3,982.7 L123.4,983.6 Q121.5,984.1 120.4,983.6 L118.8,982.7 Q117.7,982.2 116.7,980.3 L115.0,977.3 Q114.0,975.4 113.1,972.9 L111.8,969.0 Q111.0,966.4 109.5,965.0 L107.2,962.7 Q105.7,961.2 105.9,960.6 L106.3,959.6 Q106.5,958.9 107.5,958.1 L109.2,956.8 Q110.2,955.9 109.8,954.7 L109.1,952.7 Q108.7,951.4 107.9,950.7 L106.6,949.5 Q105.7,948.7 104.7,948.6 Z " fill="#828282" fill-rule="evenodd"/><path d="M178.9,916.6 Q177.7,916.2 176.4,916.8 L174.4,917.8 Q173.2,918.5 172.1,918.5 L170.5,918.7 Q169.4,918.8 170.5,919.6 L172.1,920.9 Q173.2,921.8 173.2,922.5 L173.2,923.7 Q173.2,924.5 170.0,925.3 L165.1,926.6 Q161.9,927.5 159.8,929.1 L156.5,931.8 Q154.4,933.5 153.9,935.1 L153.1,937.8 Q152.6,939.5 153.6,944.1 L155.0,951.3 Q155.9,955.9 156.6,960.1 L157.6,966.7 Q158.2,970.9 158.2,975.1 L158.2,981.7 Q158.2,985.9 159.7,987.8 L162.0,990.8 Q163.4,992.7 164.7,992.2 L166.7,991.6 Q167.9,991.2 166.9,989.3 L165.2,986.3 Q164.2,984.4 164.4,982.3 L164.7,979.0 Q164.9,976.9 166.2,977.8 L168.2,979.1 Q169.4,979.9 170.7,979.4 L172.7,978.6 Q173.9,978.1 173.1,977.0 L171.8,975.1 Q170.9,973.9 170.7,970.6 L170.4,965.3 Q170.2,961.9 170.6,960.7 L171.3,958.7 Q171.7,957.4 172.3,960.8 L173.3,966.1 Q173.9,969.4 176.4,978.2 L180.2,992.1 Q182.6,1000.9 182.2,1002.0 L181.5,1003.6 Q181.1,1004.7 182.0,1004.9 L183.5,1005.2 Q184.4,1005.4 185.9,1004.5 L188.2,1003.0 Q189.7,1002.1 189.2,1001.4 L188.6,1000.2 Q188.2,999.4 187.3,999.6 L186.0,1000.0 Q185.2,1000.2 182.9,991.6 L179.2,978.0 Q176.9,969.4 176.5,967.3 L175.8,964.0 Q175.4,961.9 175.0,959.0 L174.3,954.4 Q173.9,951.4 175.0,949.3 L176.6,946.0 Q177.7,943.9 178.5,942.3 L179.8,939.6 Q180.7,938.0 180.5,935.4 L180.1,931.5 Q179.9,929.0 180.6,927.9 L181.5,926.3 Q182.2,925.2 183.6,924.8 L186.0,924.1 Q187.4,923.7 186.6,923.2 L185.3,922.3 Q184.4,921.8 183.8,920.6 L182.8,918.8 Q182.2,917.7 180.9,917.3 Z " fill="#7f8086" fill-rule="evenodd"/><path d="M274.5,872.5 Q273.6,872.3 271.7,873.1 L268.8,874.2 Q266.9,875.0 266.4,876.0 L265.8,877.7 Q265.4,878.7 266.4,879.8 L268.1,881.4 Q269.1,882.5 269.7,883.7 L270.5,885.7 Q271.1,887.0 268.6,887.6 L264.8,888.6 Q262.4,889.2 260.5,891.1 L257.5,894.1 Q255.6,896.0 254.2,898.3 L252.1,901.9 Q250.7,904.2 250.8,905.5 L251.0,907.5 Q251.1,908.7 252.6,909.4 L254.9,910.3 Q256.4,911.0 257.6,911.8 L259.6,913.1 Q260.9,914.0 260.7,918.2 L260.3,924.8 Q260.1,929.0 259.7,932.3 L259.0,937.6 Q258.6,941.0 259.3,944.7 L260.2,950.7 Q260.9,954.4 259.0,955.3 L256.0,956.6 Q254.1,957.4 254.5,958.1 L255.2,959.1 Q255.6,959.7 257.9,959.1 L261.6,958.3 Q263.9,957.7 264.7,955.6 L266.0,952.1 Q266.9,949.9 267.1,946.2 L267.4,940.2 Q267.6,936.5 268.5,935.2 L269.8,933.2 Q270.6,932.0 270.8,937.0 L271.2,944.9 Q271.4,949.9 271.5,952.5 L271.6,956.4 Q271.7,958.9 272.6,959.8 L274.1,961.1 Q275.1,961.9 275.7,961.3 L276.5,960.3 Q277.1,959.7 276.7,957.0 L276.2,952.7 Q275.9,949.9 276.7,944.9 L278.0,937.0 Q278.9,932.0 279.2,926.9 L279.7,919.0 Q280.1,914.0 280.1,911.9 L280.3,908.6 Q280.4,906.5 281.6,905.6 L283.6,904.3 Q284.9,903.5 286.1,905.2 L288.1,907.8 Q289.4,909.5 290.2,909.3 L291.5,908.9 Q292.4,908.7 291.9,906.8 L291.3,903.9 Q290.9,902.0 289.6,900.3 L287.6,897.7 Q286.4,896.0 285.1,894.3 L283.1,891.7 Q281.9,890.0 280.2,889.1 L277.5,887.8 Q275.9,887.0 276.3,885.9 L276.9,884.3 Q277.4,883.2 278.4,882.6 L280.1,881.6 Q281.1,881.0 280.9,879.7 L280.6,877.8 Q280.4,876.5 279.3,875.6 L277.7,874.1 Q276.6,873.2 275.8,872.9 Z " fill="#767a88" fill-rule="evenodd"/><path d="M289.8,896.0 V961.9" stroke="#767a88" stroke-width="1.5" fill="none"/><path d="M286.4,890.7 V901.5 M289.8,890.7 V901.5 M293.1,890.7 V901.5 M296.6,890.7 V901.5 M286.4,901.4 H296.6" stroke="#767a88" stroke-width="1.1" fill="none"/>

<path d="M180.5,808 V889.2" stroke="#267ce0" stroke-width="3.6" stroke-dasharray="3.4 7.2" stroke-linecap="round" fill="none"/><circle cx="180.5" cy="897.2" r="6.2" fill="#267ce0"/><path d="M504.8,808 V890.5" stroke="#267ce0" stroke-width="3.6" stroke-dasharray="3.4 7.2" stroke-linecap="round" fill="none"/><circle cx="504.8" cy="898.5" r="6.2" fill="#267ce0"/><path d="M829.3,808 V915.9" stroke="#267ce0" stroke-width="3.6" stroke-dasharray="3.4 7.2" stroke-linecap="round" fill="none"/><circle cx="829.3" cy="923.9" r="6.2" fill="#267ce0"/><path d="M1152.8,808 V919.9" stroke="#267ce0" stroke-width="3.6" stroke-dasharray="3.4 7.2" stroke-linecap="round" fill="none"/><circle cx="1152.8" cy="927.9" r="6.2" fill="#267ce0"/>
</g>
<g id="p3_cards">
<rect x="195" y="448.6" width="1223" height="185.6" rx="13" fill="#fff" stroke="#267ce0" stroke-width="1.7"/>
<text transform="translate(361.2,488) scale(0.76,1)" x="0" y="0" font-size="33" font-weight="bold" fill="#267ce0" stroke="#267ce0" stroke-width="0.5" textLength="278.2" lengthAdjust="spacing">CREATING</text><text transform="translate(601.2,488) scale(0.76,1)" x="0" y="0" font-size="33" font-weight="bold" fill="#267ce0" stroke="#267ce0" stroke-width="0.5" textLength="293.9" lengthAdjust="spacing">ECONOMIC</text><text transform="translate(850.8,488) scale(0.76,1)" x="0" y="0" font-size="33" font-weight="bold" fill="#267ce0" stroke="#267ce0" stroke-width="0.5" textLength="527.4" lengthAdjust="spacing">TRANSFORMATION</text>
<path d="M176.6,509.5 a8,8 0 0 1 8,-8 H454.6 a8,8 0 0 1 8,8 V794.8 a12,12 0 0 1 -12,12 H188.6 a12,12 0 0 1 -12,-12 Z" fill="#267ce0"/><rect x="181.0" y="506" width="277.4" height="126" rx="5.5" fill="#fff"/>
<path d="M501.3,509.5 a8,8 0 0 1 8,-8 H779.3 a8,8 0 0 1 8,8 V794.8 a12,12 0 0 1 -12,12 H513.3 a12,12 0 0 1 -12,-12 Z" fill="#267ce0"/><rect x="505.7" y="506" width="277.4" height="126" rx="5.5" fill="#fff"/>
<path d="M826.2,509.5 a8,8 0 0 1 8,-8 H1104.2 a8,8 0 0 1 8,8 V794.8 a12,12 0 0 1 -12,12 H838.2 a12,12 0 0 1 -12,-12 Z" fill="#267ce0"/><rect x="830.6" y="506" width="277.4" height="126" rx="5.5" fill="#fff"/>
<path d="M1151.1,509.5 a8,8 0 0 1 8,-8 H1429.1 a8,8 0 0 1 8,8 V794.8 a12,12 0 0 1 -12,12 H1163.1 a12,12 0 0 1 -12,-12 Z" fill="#267ce0"/><rect x="1155.5" y="506" width="277.4" height="126" rx="5.5" fill="#fff"/>
<circle cx="262.3" cy="543.5" r="31.2" fill="#267ce0"/><circle cx="375.9" cy="543.5" r="31.2" fill="#267ce0"/><path d="M296.9,534.3 h16.2 v-7.8 l28,16.3 l-28,16.2 v-8 h-16.2 z" fill="#267ce0"/>
<circle cx="587.0" cy="543.5" r="31.2" fill="#267ce0"/><circle cx="700.6" cy="543.5" r="31.2" fill="#267ce0"/><path d="M621.6,534.3 h16.2 v-7.8 l28,16.3 l-28,16.2 v-8 h-16.2 z" fill="#267ce0"/>
<circle cx="911.9" cy="543.5" r="31.2" fill="#267ce0"/><circle cx="1025.5" cy="543.5" r="31.2" fill="#267ce0"/><path d="M946.5,534.3 h16.2 v-7.8 l28,16.3 l-28,16.2 v-8 h-16.2 z" fill="#267ce0"/>
<circle cx="1236.8" cy="543.5" r="31.2" fill="#267ce0"/><circle cx="1350.4" cy="543.5" r="31.2" fill="#267ce0"/><path d="M1271.4,534.3 h16.2 v-7.8 l28,16.3 l-28,16.2 v-8 h-16.2 z" fill="#267ce0"/>
<g fill="none" stroke="#ffffff" stroke-width="2.2" stroke-linejoin="round" stroke-linecap="round"><path d="M238.6,531 L247.6,522.6 L248.3,530.2 Z" fill="#fff"/><path d="M247.8,530 L270.5,553.6 M267.5,550.3 l3.2,3.5 l-3.6,3"/><path d="M260.2,556.3 L273,543.7 C281,547.5 284.5,555 281.2,561 C278.5,565.8 273,567.3 268.8,565.6 Z"/></g>
<g fill="none" stroke="#ffffff" stroke-width="2.2" stroke-linejoin="round" stroke-linecap="round"><path d="M349.3,545.5 L355.2,528.3 H370 L374.8,542.2 L389,545 L391,553"/><path d="M346.8,549.5 C352,541.5 364,542.5 368.5,551 L371.5,558.6 H379"/><path d="M382.2,543.2 V536.8 Q382.2,534.6 384.2,534.6"/></g><circle cx="357.4" cy="557.4" r="10" fill="#ffffff"/><circle cx="357.4" cy="557.4" r="3.7" fill="#267ce0"/><circle cx="386.3" cy="560.4" r="7.6" fill="#ffffff"/><circle cx="386.3" cy="560.4" r="2.8" fill="#267ce0"/>
<clipPath id="cpH"><circle cx="587.0" cy="543.5" r="31.2"/></clipPath><g clip-path="url(#cpH)"><path d="M572.7,580 V542.6 L591.3,529.7 L611,542.6 V580" fill="none" stroke="#ffffff" stroke-width="2.2"/><rect x="578.30" y="552.50" width="7.40" height="7.40" fill="#ffffff"/><rect x="578.30" y="562.50" width="7.40" height="7.40" fill="#ffffff"/><rect x="589.30" y="552.50" width="7.40" height="7.40" fill="#ffffff"/><rect x="589.30" y="562.50" width="7.40" height="7.40" fill="#ffffff"/></g>
<clipPath id="cpC"><circle cx="700.6" cy="543.5" r="31.2"/></clipPath><g clip-path="url(#cpC)"><g fill="none" stroke="#ffffff" stroke-width="2"><path d="M687.6,545 V525.2 H720 V543"/><path d="M677.6,580 V545.6 H698.8 V580"/><path d="M698.8,546 L709.6,537.2 L720,544 V580"/></g><rect x="692.30" y="530.60" width="4.30" height="4.30" fill="#ffffff"/><rect x="692.30" y="537.00" width="4.30" height="4.30" fill="#ffffff"/><rect x="698.60" y="530.60" width="4.30" height="4.30" fill="#ffffff"/><rect x="698.60" y="537.00" width="4.30" height="4.30" fill="#ffffff"/><rect x="681.00" y="550.00" width="4.20" height="4.20" fill="#ffffff"/><rect x="681.00" y="556.60" width="4.20" height="4.20" fill="#ffffff"/><rect x="681.00" y="563.20" width="4.20" height="4.20" fill="#ffffff"/><rect x="687.40" y="550.00" width="4.20" height="4.20" fill="#ffffff"/><rect x="687.40" y="556.60" width="4.20" height="4.20" fill="#ffffff"/><rect x="687.40" y="563.20" width="4.20" height="4.20" fill="#ffffff"/><rect x="702.60" y="550.00" width="4.20" height="4.20" fill="#ffffff"/><rect x="702.60" y="556.60" width="4.20" height="4.20" fill="#ffffff"/><rect x="702.60" y="563.20" width="4.20" height="4.20" fill="#ffffff"/><rect x="709.00" y="550.00" width="4.20" height="4.20" fill="#ffffff"/><rect x="709.00" y="556.60" width="4.20" height="4.20" fill="#ffffff"/><rect x="709.00" y="563.20" width="4.20" height="4.20" fill="#ffffff"/></g>
<path d="M903.70,523.45 V525.89 L911.90,531.13 L920.10,525.89 V523.45 M903.70,529.27 V531.71 L911.90,536.95 L920.10,531.71 V529.27 M903.70,535.09 V537.54 L911.90,542.78 L920.10,537.54 V535.09 M903.70,540.91 V543.36 L911.90,548.60 L920.10,543.36 V540.91 M903.70,546.73 V549.18 L911.90,554.42 L920.10,549.18 V546.73 M903.70,552.56 V555.00 L911.90,560.24 L920.10,555.00 V552.56 M911.90,559.94 V566.00 M908.95,520.30 V524.64 M914.85,520.30 V524.64 " fill="none" stroke="#ffffff" stroke-width="1.5" stroke-linecap="round" stroke-linejoin="round"/><clipPath id="cw8974"><rect x="880" y="524.5" width="22" height="44.5"/></clipPath><g clip-path="url(#cw8974)"><path d="M890.60,530.15 V532.21 L897.40,536.62 L904.20,532.21 V530.15 M890.60,535.05 V537.11 L897.40,541.53 L904.20,537.11 V535.05 M890.60,539.96 V542.02 L897.40,546.43 L904.20,542.02 V539.96 M890.60,544.86 V546.92 L897.40,551.34 L904.20,546.92 V544.86 M890.60,549.77 V551.83 L897.40,556.24 L904.20,551.83 V549.77 M890.60,554.67 V556.73 L897.40,561.15 L904.20,556.73 V554.67 M897.40,560.85 V566.00 M894.95,527.50 V531.16 M899.85,527.50 V531.16 " fill="none" stroke="#ffffff" stroke-width="1.4" stroke-linecap="round" stroke-linejoin="round"/></g><clipPath id="cw9262"><rect x="921.6" y="524.5" width="28.399999999999977" height="44.5"/></clipPath><g clip-path="url(#cw9262)"><path d="M919.40,530.15 V532.21 L926.20,536.62 L933.00,532.21 V530.15 M919.40,535.05 V537.11 L926.20,541.53 L933.00,537.11 V535.05 M919.40,539.96 V542.02 L926.20,546.43 L933.00,542.02 V539.96 M919.40,544.86 V546.92 L926.20,551.34 L933.00,546.92 V544.86 M919.40,549.77 V551.83 L926.20,556.24 L933.00,551.83 V549.77 M919.40,554.67 V556.73 L926.20,561.15 L933.00,556.73 V554.67 M926.20,560.85 V566.00 M923.75,527.50 V531.16 M928.65,527.50 V531.16 " fill="none" stroke="#ffffff" stroke-width="1.4" stroke-linecap="round" stroke-linejoin="round"/></g>
<g fill="none" stroke="#ffffff" stroke-width="1.9" stroke-linejoin="round"><path d="M1012,522.3 H1039.6 L1054.4,545 A5.65,5.3 0 0 1 1043.10,545 A5.65,5.3 0 0 1 1031.80,545 A5.65,5.3 0 0 1 1020.50,545 A5.65,5.3 0 0 1 1009.20,545 A5.65,5.3 0 0 1 997.90,545 Z"/><path d="M1017.52,522.3 L1009.20,545"/><path d="M1023.04,522.3 L1020.50,545"/><path d="M1028.56,522.3 L1031.80,545"/><path d="M1034.08,522.3 L1043.10,545"/><path d="M1002.6,551 V563.6 H1049.6 V551" stroke-width="2.2"/></g><circle cx="1017.6" cy="554.6" r="2.9" fill="#ffffff"/><path d="M1012.6,563.5 v-2.5 a3,3 0 0 1 3,-3 h4 a3,3 0 0 1 3,3 v2.5z" fill="#ffffff"/><circle cx="1034.1" cy="554.6" r="2.9" fill="#ffffff"/><path d="M1029.1,563.5 v-2.5 a3,3 0 0 1 3,-3 h4 a3,3 0 0 1 3,3 v2.5z" fill="#ffffff"/>
<circle cx="1236.3" cy="543.8" r="10.3" fill="none" stroke="#ffffff" stroke-width="2"/><text x="1236.3" y="548.6" font-size="13.5" font-weight="bold" fill="#ffffff" text-anchor="middle" >$</text>
<circle cx="1355.6" cy="530.2" r="9.2" fill="#267ce0" stroke="#ffffff" stroke-width="1.8"/><path d="M1355.9,525 V531 L1359,533" fill="none" stroke="#ffffff" stroke-width="1.6" stroke-linecap="round"/><circle cx="1344.8" cy="540.3" r="9.6" fill="#267ce0" stroke="#ffffff" stroke-width="1.9"/><text x="1344.8" y="545.0" font-size="13" font-weight="bold" fill="#ffffff" text-anchor="middle" >$</text>
<clipPath id="cpHd"><circle cx="1350.4" cy="543.5" r="31.2"/></clipPath><g clip-path="url(#cpHd)"><path d="M1316,548.5 C1325,549 1332,550.5 1338,553 C1345,556 1352,556 1365.6,554.4 C1366.5,555.5 1358,559 1344,566 C1336,565 1328,562 1322,558 Z" fill="#ffffff"/><path d="M1338.5,557.5 C1344,558.5 1350,558 1356,556.5" fill="none" stroke="#267ce0" stroke-width="1.3"/></g>
<text x="265.6" y="600.0" font-size="21.5" font-weight="normal" fill="#267ce0" textLength="101.9" lengthAdjust="spacingAndGlyphs" stroke="#267ce0" stroke-width="0.45">INCREASE</text>
<text x="243.0" y="625.0" font-size="21.5" font-weight="normal" fill="#267ce0" textLength="152.2" lengthAdjust="spacingAndGlyphs" stroke="#267ce0" stroke-width="0.45">PRODUCTIVITY</text>
<text x="545.3" y="600.0" font-size="21.5" font-weight="normal" fill="#267ce0" textLength="198.7" lengthAdjust="spacingAndGlyphs" stroke="#267ce0" stroke-width="0.45">MOVE FROM RURAL</text>
<text x="545.5" y="625.0" font-size="21.5" font-weight="normal" fill="#267ce0" textLength="199.0" lengthAdjust="spacingAndGlyphs" stroke="#267ce0" stroke-width="0.45">TO URBAN REGIONS</text>
<text x="876.3" y="600.0" font-size="21.5" font-weight="normal" fill="#267ce0" textLength="185.7" lengthAdjust="spacingAndGlyphs" stroke="#267ce0" stroke-width="0.45">CHANGE SECTORS</text>
<text x="872.5" y="625.0" font-size="21.5" font-weight="normal" fill="#267ce0" textLength="192.7" lengthAdjust="spacingAndGlyphs" stroke="#267ce0" stroke-width="0.45">AND OCCUPATIONS</text>
<text x="1212.0" y="600.0" font-size="21.5" font-weight="normal" fill="#267ce0" textLength="157.2" lengthAdjust="spacingAndGlyphs" stroke="#267ce0" stroke-width="0.45">TRANSITION TO</text>
<text x="1226.2" y="625.0" font-size="21.5" font-weight="normal" fill="#267ce0" textLength="134.6" lengthAdjust="spacingAndGlyphs" stroke="#267ce0" stroke-width="0.45">WAGED JOBS</text>
<path d="M233.70,649.77 V653.24 L245.30,660.68 L256.90,653.24 V649.77 M233.70,658.04 V661.51 L245.30,668.95 L256.90,661.51 V658.04 M233.70,666.30 V669.78 L245.30,677.22 L256.90,669.78 V666.30 M233.70,674.57 V678.04 L245.30,685.49 L256.90,678.04 V674.57 M233.70,682.84 V686.31 L245.30,693.75 L256.90,686.31 V682.84 M233.70,691.11 V694.58 L245.30,702.02 L256.90,694.58 V691.11 M245.30,701.72 V710.20 M241.12,645.30 V651.47 M249.48,645.30 V651.47 " fill="none" stroke="#ffffff" stroke-width="2.1" stroke-linecap="round" stroke-linejoin="round"/><clipPath id="cw2247"><rect x="205" y="652.8" width="26.19999999999999" height="60.40000000000009"/></clipPath><g clip-path="url(#cw2247)"><path d="M215.00,659.54 V662.46 L224.70,668.69 L234.40,662.46 V659.54 M215.00,666.48 V669.39 L224.70,675.62 L234.40,669.39 V666.48 M215.00,673.41 V676.32 L224.70,682.55 L234.40,676.32 V673.41 M215.00,680.34 V683.25 L224.70,689.48 L234.40,683.25 V680.34 M215.00,687.27 V690.18 L224.70,696.42 L234.40,690.18 V687.27 M215.00,694.20 V697.11 L224.70,703.35 L234.40,697.11 V694.20 M224.70,703.05 V710.20 M221.21,655.80 V660.97 M228.19,655.80 V660.97 " fill="none" stroke="#ffffff" stroke-width="2.0" stroke-linecap="round" stroke-linejoin="round"/></g><clipPath id="cw2660"><rect x="259.5" y="652.8" width="30.5" height="60.40000000000009"/></clipPath><g clip-path="url(#cw2660)"><path d="M256.30,659.54 V662.46 L266.00,668.69 L275.70,662.46 V659.54 M256.30,666.48 V669.39 L266.00,675.62 L275.70,669.39 V666.48 M256.30,673.41 V676.32 L266.00,682.55 L275.70,676.32 V673.41 M256.30,680.34 V683.25 L266.00,689.48 L275.70,683.25 V680.34 M256.30,687.27 V690.18 L266.00,696.42 L275.70,690.18 V687.27 M256.30,694.20 V697.11 L266.00,703.35 L275.70,697.11 V694.20 M266.00,703.05 V710.20 M262.51,655.80 V660.97 M269.49,655.80 V660.97 " fill="none" stroke="#ffffff" stroke-width="2.0" stroke-linecap="round" stroke-linejoin="round"/></g><rect x="309.6" y="675.2" width="25.8" height="5.8" fill="#ffffff"/><rect x="309.6" y="686.6" width="25.8" height="5.8" fill="#ffffff"/><circle cx="375.5" cy="667.8" r="22.8" fill="none" stroke="#ffffff" stroke-width="1.7"/><text x="361.8" y="676.0" font-size="25" font-weight="bold" fill="#ffffff" textLength="27.2" lengthAdjust="spacingAndGlyphs" >3x</text>
<rect x="384.4" y="700.5" width="6" height="11.3" fill="#ffffff"/><rect x="391.8" y="699.5" width="6" height="12.3" fill="#ffffff"/><rect x="399.2" y="697" width="6" height="14.8" fill="#ffffff"/><rect x="406.6" y="691.5" width="6" height="20.3" fill="#ffffff"/><rect x="414" y="683" width="6" height="28.8" fill="#ffffff"/><path d="M384,699.5 C398,698.5 410,692 412.5,678.5 L407.6,679.5 L415.8,670.8 L423.2,680.3 L418.6,679.2 C416,693 404,702.5 384,704.5 Z" fill="#ffffff" stroke="#267ce0" stroke-width="0.8"/>
<text x="207.6" y="746.5" font-size="19.3" font-weight="normal" fill="#ffffff" textLength="82.6" lengthAdjust="spacingAndGlyphs" stroke="#fff" stroke-width="0.3">IMPROVED</text>
<text x="185.8" y="768.2" font-size="19.3" font-weight="normal" fill="#ffffff" textLength="121.2" lengthAdjust="spacingAndGlyphs" stroke="#fff" stroke-width="0.3">AGRICULTURAL</text>
<text x="192.6" y="789.8" font-size="19.3" font-weight="normal" fill="#ffffff" textLength="111.6" lengthAdjust="spacingAndGlyphs" stroke="#fff" stroke-width="0.3">PRODUCTIVITY</text>
<text x="367.2" y="746.5" font-size="19.3" font-weight="normal" fill="#ffffff" textLength="46.0" lengthAdjust="spacingAndGlyphs" stroke="#fff" stroke-width="0.3">TOTAL</text>
<text x="332.6" y="768.2" font-size="19.3" font-weight="normal" fill="#ffffff" textLength="114.0" lengthAdjust="spacingAndGlyphs" stroke="#fff" stroke-width="0.3">PRODUCTIVITY</text>
<text x="357.3" y="789.8" font-size="19.3" font-weight="normal" fill="#ffffff" textLength="69.3" lengthAdjust="spacingAndGlyphs" stroke="#fff" stroke-width="0.3">GROWTH</text>
<g fill="none" stroke="#ffffff" stroke-width="2" stroke-linecap="round" stroke-linejoin="round"><path d="M517.5,742.4 H594"/><path d="M526.5,742 V731.5 H538.4 V742"/><path d="M542.2,742 V723.2 H554.2 V742"/><path d="M558,742 V717.4 H569.6 V742"/><path d="M573.4,742 V701.8 H585.4 V742"/><circle cx="544.7" cy="687.8" r="15" /><path d="M532,716.5 C552,715 568,706 574,690.5 M568.5,691.8 L574.6,688.6 L577.4,695"/></g><text x="544.7" y="694.6" font-size="19" font-weight="bold" fill="#ffffff" text-anchor="middle" >$</text>
<text x="542.2" y="773.3" font-size="18" font-weight="bold" fill="#ffffff" textLength="26.4" lengthAdjust="spacingAndGlyphs" >LIC</text>
<text x="593.5" y="686.0" font-size="32" font-weight="bold" fill="#ffffff" textLength="32.0" lengthAdjust="spacingAndGlyphs" >4x</text>
<text x="632.0" y="672.5" font-size="19.3" font-weight="bold" fill="#ffffff" textLength="94.2" lengthAdjust="spacingAndGlyphs" >PER CAPITA</text>
<text x="632.0" y="694.2" font-size="19.3" font-weight="bold" fill="#ffffff" textLength="143.0" lengthAdjust="spacingAndGlyphs" >INCOME GROWTH</text>
<text x="632.0" y="724.0" font-size="19.3" font-weight="normal" fill="#ffffff" textLength="108.6" lengthAdjust="spacingAndGlyphs" stroke="#fff" stroke-width="0.3">IN COUNTRIES</text>
<text x="632.0" y="746.0" font-size="19.3" font-weight="normal" fill="#ffffff" textLength="97.0" lengthAdjust="spacingAndGlyphs" stroke="#fff" stroke-width="0.3">URBANIZING</text>
<text x="632.0" y="767.8" font-size="19.3" font-weight="normal" fill="#ffffff" textLength="101.2" lengthAdjust="spacingAndGlyphs" stroke="#fff" stroke-width="0.3">FASTER THAN</text>
<text x="632.0" y="789.8" font-size="19.3" font-weight="normal" fill="#ffffff" textLength="72.0" lengthAdjust="spacingAndGlyphs" stroke="#fff" stroke-width="0.3">AVERAGE</text>

<rect x="842" y="669" width="42.3" height="74.7" fill="#ffffff"/><rect x="844.6" y="671.6" width="37.1" height="24.8" fill="#267ce0"/><path d="M845.6,740.6 L850.6,725.8 H860.3 L864.9,713.6 H870.6 L872.2,709.6 L867.6,708.2 L878.2,700.6 L882.6,713 L878.2,711.6 L875,720.8 H869.3 L864.8,733 H855.2 L852.2,741.2 Z" fill="#267ce0"/>
<text x="851.0" y="773.3" font-size="18" font-weight="bold" fill="#ffffff" textLength="25.8" lengthAdjust="spacingAndGlyphs" >LIC</text>
<text x="892.0" y="729.8" font-size="31" font-weight="normal" fill="#ffffff" textLength="57.0" lengthAdjust="spacingAndGlyphs" stroke="#fff" stroke-width="0.9">62%</text>
<text x="950.2" y="668.4" font-size="19.3" font-weight="normal" fill="#ffffff" textLength="121.0" lengthAdjust="spacingAndGlyphs" stroke="#fff" stroke-width="0.3">REALLOCATION</text>
<text x="950.2" y="690.0" font-size="19.3" font-weight="normal" fill="#ffffff" textLength="125.0" lengthAdjust="spacingAndGlyphs" stroke="#fff" stroke-width="0.3">ACCOUNTS FOR</text>
<text x="950.2" y="718.0" font-size="19.3" font-weight="bold" fill="#ffffff" textLength="142.6" lengthAdjust="spacingAndGlyphs" >OF PRODUCTIVITY</text>
<text x="950.2" y="740.0" font-size="19.3" font-weight="bold" fill="#ffffff" textLength="72.4" lengthAdjust="spacingAndGlyphs" >GROWTH</text>
<text x="950.2" y="768.2" font-size="19.3" font-weight="normal" fill="#ffffff" textLength="95.0" lengthAdjust="spacingAndGlyphs" stroke="#fff" stroke-width="0.3">IN REAL GDP</text>
<text y="790.0" font-size="19.3" font-weight="normal" fill="#ffffff" stroke="#fff" stroke-width="0.3"><tspan x="950.4" textLength="68.3" lengthAdjust="spacingAndGlyphs">GROWTH</tspan> <tspan x="1027.6" textLength="71.8" lengthAdjust="spacingAndGlyphs">EPISODES</tspan></text>

<circle cx="1211.1" cy="689" r="41" fill="none" stroke="#ffffff" stroke-width="2"/><circle cx="1211.1" cy="689" r="28" fill="none" stroke="#ffffff" stroke-width="2"/><path d="M1209.67,648.02 A41,41 0 0 1 1249.63,674.98 L1237.41,679.42 A28,28 0 0 0 1210.12,661.02 Z" fill="#ffffff"/><text x="1198.8" y="696.0" font-size="18" font-weight="bold" fill="#ffffff" textLength="26.2" lengthAdjust="spacingAndGlyphs" >LIC</text>
<circle cx="1375.5" cy="689" r="41" fill="none" stroke="#ffffff" stroke-width="2"/><circle cx="1375.5" cy="689" r="28" fill="none" stroke="#ffffff" stroke-width="2"/><path d="M1374.07,648.02 A41,41 0 0 1 1413.65,673.97 L1401.55,678.74 A28,28 0 0 0 1374.52,661.02 Z" fill="#ffffff"/><path d="M1414.49,676.33 A41,41 0 0 1 1402.67,719.71 L1394.05,709.97 A28,28 0 0 0 1402.13,680.35 Z" fill="#ffffff"/><path d="M1400.74,721.31 A41,41 0 0 1 1350.83,721.74 L1358.65,711.36 A28,28 0 0 0 1392.74,711.06 Z" fill="#ffffff"/><text x="1360.8" y="696.0" font-size="18" font-weight="bold" fill="#ffffff" textLength="31.0" lengthAdjust="spacingAndGlyphs" >MIC</text>
<rect x="1297.7" y="652.30" width="17.4" height="2.9" rx="0.8" fill="#ffffff"/><rect x="1297.7" y="656.05" width="17.4" height="2.9" rx="0.8" fill="#ffffff"/><rect x="1297.7" y="659.80" width="17.4" height="2.9" rx="0.8" fill="#ffffff"/><rect x="1297.7" y="663.55" width="17.4" height="2.9" rx="0.8" fill="#ffffff"/><rect x="1297.7" y="667.30" width="17.4" height="2.9" rx="0.8" fill="#ffffff"/><rect x="1297.7" y="671.05" width="17.4" height="2.9" rx="0.8" fill="#ffffff"/><rect x="1297.7" y="674.80" width="17.4" height="2.9" rx="0.8" fill="#ffffff"/><rect x="1297.7" y="678.55" width="17.4" height="2.9" rx="0.8" fill="#ffffff"/><rect x="1297.7" y="682.30" width="17.4" height="2.9" rx="0.8" fill="#ffffff"/><rect x="1297.7" y="686.05" width="17.4" height="2.9" rx="0.8" fill="#ffffff"/><rect x="1297.7" y="689.80" width="17.4" height="2.9" rx="0.8" fill="#ffffff"/><rect x="1297.7" y="693.55" width="17.4" height="2.9" rx="0.8" fill="#ffffff"/><rect x="1297.7" y="697.30" width="17.4" height="2.9" rx="0.8" fill="#ffffff"/><rect x="1297.7" y="701.05" width="17.4" height="2.9" rx="0.8" fill="#ffffff"/><rect x="1297.7" y="704.80" width="17.4" height="2.9" rx="0.8" fill="#ffffff"/><rect x="1297.7" y="708.55" width="17.4" height="2.9" rx="0.8" fill="#ffffff"/><rect x="1297.7" y="712.30" width="17.4" height="2.9" rx="0.8" fill="#ffffff"/><rect x="1297.7" y="716.05" width="17.4" height="2.9" rx="0.8" fill="#ffffff"/><rect x="1297.7" y="719.80" width="17.4" height="2.9" rx="0.8" fill="#ffffff"/><rect x="1273" y="701.50" width="20" height="2.9" rx="0.8" fill="#ffffff"/><rect x="1273" y="705.25" width="20" height="2.9" rx="0.8" fill="#ffffff"/><rect x="1273" y="709.00" width="20" height="2.9" rx="0.8" fill="#ffffff"/><rect x="1273" y="712.75" width="20" height="2.9" rx="0.8" fill="#ffffff"/><rect x="1273" y="716.50" width="20" height="2.9" rx="0.8" fill="#ffffff"/><rect x="1273" y="720.25" width="20" height="2.9" rx="0.8" fill="#ffffff"/><circle cx="1294.3" cy="712.7" r="14.2" fill="#ffffff"/><circle cx="1294.3" cy="712.7" r="11.8" fill="none" stroke="#267ce0" stroke-width="1.3"/><circle cx="1294.3" cy="712.7" r="9" fill="none" stroke="#267ce0" stroke-width="1"/><text x="1294.3" y="718.3" font-size="15" font-weight="normal" fill="#267ce0" text-anchor="middle" >$</text>
<text x="1197.3" y="756.8" font-size="19" font-weight="bold" fill="#ffffff" textLength="37.5" lengthAdjust="spacingAndGlyphs" >20%</text>
<text x="1363.0" y="756.8" font-size="19" font-weight="bold" fill="#ffffff" textLength="37.6" lengthAdjust="spacingAndGlyphs" >60%</text>
<text x="1197.8" y="790.0" font-size="19.3" font-weight="normal" fill="#ffffff" textLength="197.8" lengthAdjust="spacingAndGlyphs" stroke="#fff" stroke-width="0.3">SHARE OF WAGED WORK</text>

</g>
<g id="p5_footer">
<rect x="0" y="1102" width="1601" height="98" fill="#a9a9a9"/>
<text y="1132.5" font-size="16.5" font-weight="normal" fill="#ffffff" ><tspan x="58.0" textLength="48.2" lengthAdjust="spacingAndGlyphs" font-weight="bold">*Note</tspan><tspan x="105.9" textLength="3.0" lengthAdjust="spacingAndGlyphs">:</tspan> <tspan x="114.8" textLength="28.8" lengthAdjust="spacingAndGlyphs">The</tspan> <tspan x="149.2" textLength="123.4" lengthAdjust="spacingAndGlyphs">macroeconomic</tspan> <tspan x="277.9" textLength="42.1" lengthAdjust="spacingAndGlyphs">study</tspan> <tspan x="325.4" textLength="68.1" lengthAdjust="spacingAndGlyphs">analyzes</tspan> <tspan x="399.1" textLength="33.4" lengthAdjust="spacingAndGlyphs">data</tspan> <tspan x="437.3" textLength="23.4" lengthAdjust="spacingAndGlyphs">for</tspan> <tspan x="466.8" textLength="34.3" lengthAdjust="spacingAndGlyphs">over</tspan> <tspan x="507.2" textLength="50.4" lengthAdjust="spacingAndGlyphs">16,000</tspan> <tspan x="563.0" textLength="93.8" lengthAdjust="spacingAndGlyphs">overlapping</tspan> <tspan x="662.9" textLength="67.6" lengthAdjust="spacingAndGlyphs">episodes</tspan> <tspan x="736.1" textLength="15.6" lengthAdjust="spacingAndGlyphs">of</tspan> <tspan x="757.3" textLength="74.6" lengthAdjust="spacingAndGlyphs">economic</tspan> <tspan x="837.2" textLength="58.4" lengthAdjust="spacingAndGlyphs">growth</tspan> <tspan x="901.7" textLength="13.9" lengthAdjust="spacingAndGlyphs">in</tspan> <tspan x="921.2" textLength="26.9" lengthAdjust="spacingAndGlyphs">125</tspan> <tspan x="953.7" textLength="72.6" lengthAdjust="spacingAndGlyphs">countries</tspan> <tspan x="1031.6" textLength="38.4" lengthAdjust="spacingAndGlyphs">since</tspan> <tspan x="1076.1" textLength="40.6" lengthAdjust="spacingAndGlyphs">1992.</tspan></text>
<text y="1151.3" font-size="16.5" font-weight="normal" fill="#ffffff" ><tspan x="66.3" textLength="23.9" lengthAdjust="spacingAndGlyphs" font-weight="bold">LIC</tspan><tspan x="89.9" textLength="3.0" lengthAdjust="spacingAndGlyphs">:</tspan> <tspan x="100.0" textLength="95.6" lengthAdjust="spacingAndGlyphs">Low-income</tspan> <tspan x="200.0" textLength="78.1" lengthAdjust="spacingAndGlyphs">countries;</tspan> <tspan x="282.9" textLength="31.4" lengthAdjust="spacingAndGlyphs" font-weight="bold">MIC</tspan><tspan x="314.0" textLength="3.0" lengthAdjust="spacingAndGlyphs">:</tspan> <tspan x="324.1" textLength="118.4" lengthAdjust="spacingAndGlyphs">Middle-income</tspan> <tspan x="446.8" textLength="76.8" lengthAdjust="spacingAndGlyphs">countries.</tspan></text>
<text y="1181.3" font-size="16.5" font-weight="normal" fill="#ffffff" ><tspan x="66.8" textLength="23.4" lengthAdjust="spacingAndGlyphs">For</tspan> <tspan x="96.8" textLength="41.3" lengthAdjust="spacingAndGlyphs">more</tspan> <tspan x="143.0" textLength="95.8" lengthAdjust="spacingAndGlyphs">information,</tspan> <tspan x="247.9" textLength="87.6" lengthAdjust="spacingAndGlyphs">definitions,</tspan> <tspan x="342.4" textLength="30.6" lengthAdjust="spacingAndGlyphs">and</tspan> <tspan x="378.6" textLength="104.6" lengthAdjust="spacingAndGlyphs">methodology</tspan> <tspan x="489.3" textLength="46.8" lengthAdjust="spacingAndGlyphs">access</tspan> <tspan x="541.7" textLength="25.2" lengthAdjust="spacingAndGlyphs">the</tspan> <tspan x="572.2" textLength="74.6" lengthAdjust="spacingAndGlyphs">Pathways</tspan> <tspan x="651.7" textLength="16.3" lengthAdjust="spacingAndGlyphs">to</tspan> <tspan x="672.9" textLength="33.4" lengthAdjust="spacingAndGlyphs">Jobs</tspan> <tspan x="711.6" textLength="55.1" lengthAdjust="spacingAndGlyphs">report:</tspan> <tspan x="771.8" textLength="39.5" lengthAdjust="spacingAndGlyphs">http:</tspan><tspan x="811.3" textLength="180.0" lengthAdjust="spacingAndGlyphs">//bit.ly/PathwaysToJobs</tspan></text>
<defs><linearGradient id="gl" gradientUnits="userSpaceOnUse" x1="1224" y1="1174" x2="1274" y2="1128"><stop offset="0" stop-color="#00264d"/><stop offset="0.42" stop-color="#003a6e"/><stop offset="0.64" stop-color="#0a88cb"/><stop offset="0.8" stop-color="#27b5f1"/><stop offset="1" stop-color="#def3fc"/></linearGradient></defs><g fill="none" stroke="url(#gl)" stroke-linecap="round"><path d="M1273.94,1136.33 A29,29 0 1 1 1269.31,1129.72" stroke-width="3.4"/><path d="M1233.75,1130.44 Q1239.38,1141.38 1253.75,1144.62 Q1266.25,1142.62 1271.56,1134.62" stroke-width="2.8"/><path d="M1220.50,1148.56 Q1228.75,1162.62 1248.75,1166.12 Q1268.75,1167.00 1275.50,1155.12" stroke-width="2.8"/><path d="M1222.50,1139.50 Q1228.75,1127.62 1248.12,1123.88" stroke-width="2.2"/><path d="M1234.06,1130.75 Q1240.00,1128.88 1248.25,1128.62" stroke-width="2.2"/><path d="M1251.56,1128.12 Q1233.75,1150.75 1232.00,1172.31" stroke-width="2.8"/><path d="M1253.25,1127.62 Q1258.75,1152.00 1250.94,1177.00" stroke-width="2.8"/><path d="M1256.25,1129.00 Q1270.62,1143.25 1271.75,1159.00" stroke-width="2.6"/><path d="M1258.12,1125.44 Q1265.00,1127.62 1270.00,1132.62" stroke-width="2.2"/></g>
<text x="1284.5" y="1149.6" font-size="23" font-weight="bold" fill="#002f54" textLength="244.0" lengthAdjust="spacingAndGlyphs" stroke="#002f54" stroke-width="0.8">WORLD BANK GROUP</text>
<text x="1288.0" y="1166.2" font-size="12.5" font-weight="bold" fill="#1eb1ed" textLength="28.5" lengthAdjust="spacingAndGlyphs" >Jobs</text>
</g>
</svg>
</body></html>
